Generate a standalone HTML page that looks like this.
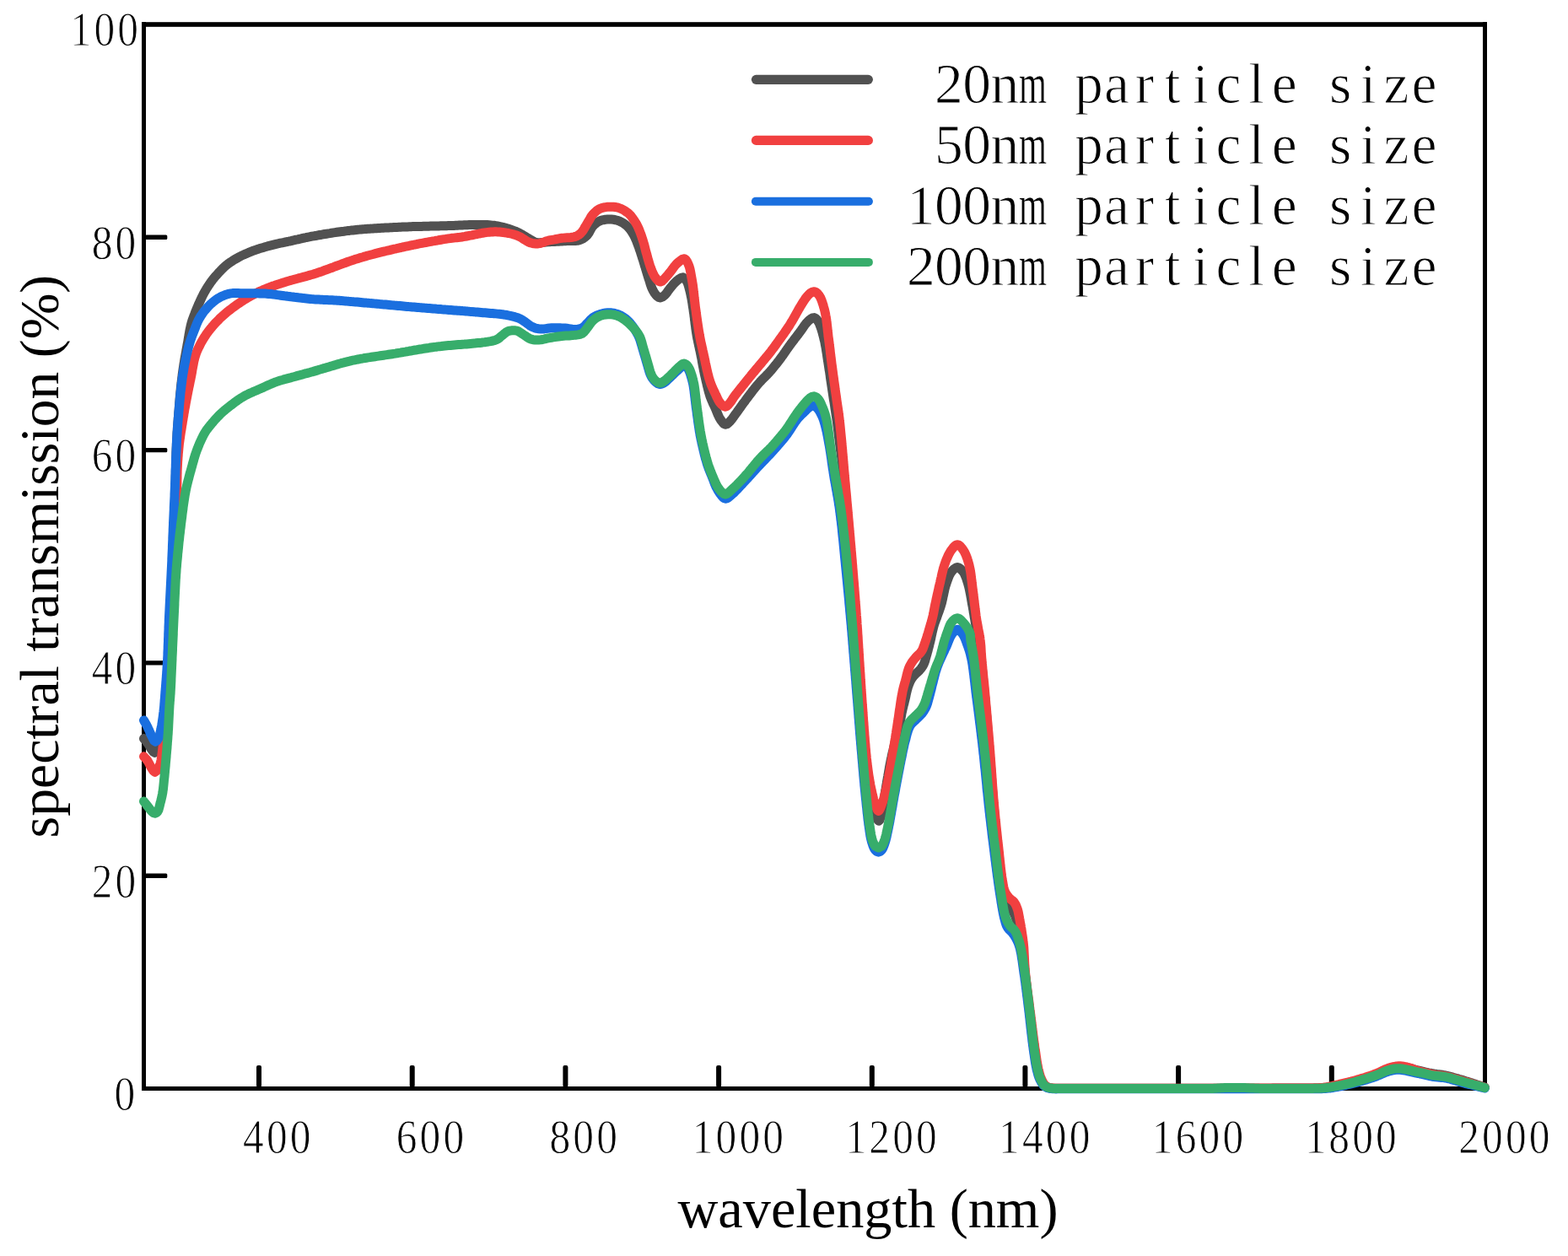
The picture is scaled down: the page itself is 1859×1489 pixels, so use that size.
<!DOCTYPE html>
<html lang="en"><head><meta charset="utf-8"><title>spectral transmission vs wavelength</title>
<style>
html,body{margin:0;padding:0;background:#fff;}
body{width:1859px;height:1489px;overflow:hidden;}
svg{display:block;}
.tick{font-family:"Liberation Serif",serif;font-size:56.1px;letter-spacing:3.65px;fill:#000;stroke:#fff;stroke-width:0.9px;paint-order:fill stroke;}
.axl{font-family:"Liberation Serif",serif;font-size:66px;fill:#000;}
.leg{font-family:"Liberation Serif",serif;font-size:67.5px;fill:#000;stroke:#fff;stroke-width:1px;paint-order:fill stroke;}
.c{fill:none;stroke-width:11;stroke-linejoin:round;stroke-linecap:round;}
</style></head><body>
<svg width="1859" height="1489" viewBox="0 0 1859 1489">
<rect x="0" y="0" width="1859" height="1489" fill="#fff"/>

<g fill="#000">
<rect x="168" y="26.2" width="1595" height="5.6"/>
<rect x="168" y="1288" width="1595" height="5"/>
<rect x="168" y="26" width="5" height="1267"/>
<rect x="1758" y="26" width="5" height="1267"/>
<rect x="304.0" y="1263" width="6" height="26" rx="2"/>
<rect x="485.7" y="1263" width="6" height="26" rx="2"/>
<rect x="667.4" y="1263" width="6" height="26" rx="2"/>
<rect x="849.1" y="1263" width="6" height="26" rx="2"/>
<rect x="1030.8" y="1263" width="6" height="26" rx="2"/>
<rect x="1212.4" y="1263" width="6" height="26" rx="2"/>
<rect x="1394.1" y="1263" width="6" height="26" rx="2"/>
<rect x="1575.8" y="1263" width="6" height="26" rx="2"/>
<rect x="172" y="1035.5" width="26.3" height="5.4" rx="1.5"/>
<rect x="172" y="783.2" width="26.3" height="5.4" rx="1.5"/>
<rect x="172" y="530.9" width="26.3" height="5.4" rx="1.5"/>
<rect x="172" y="278.6" width="26.3" height="5.4" rx="1.5"/>
</g>
<text class="tick" transform="translate(167.20,53.60) scale(0.880,1)" text-anchor="end">100</text>
<text class="tick" transform="translate(164.50,306.60) scale(0.880,1)" text-anchor="end">80</text>
<text class="tick" transform="translate(164.50,558.90) scale(0.880,1)" text-anchor="end">60</text>
<text class="tick" transform="translate(164.50,811.20) scale(0.880,1)" text-anchor="end">40</text>
<text class="tick" transform="translate(164.50,1063.50) scale(0.880,1)" text-anchor="end">20</text>
<text class="tick" transform="translate(163.30,1315.70) scale(0.880,1)" text-anchor="end">0</text>
<text class="tick" transform="translate(371.70,1366.70) scale(0.880,1)" text-anchor="end">400</text>
<text class="tick" transform="translate(553.39,1366.70) scale(0.880,1)" text-anchor="end">600</text>
<text class="tick" transform="translate(735.07,1366.70) scale(0.880,1)" text-anchor="end">800</text>
<text class="tick" transform="translate(932.26,1366.70) scale(0.880,1)" text-anchor="end">1000</text>
<text class="tick" transform="translate(1113.95,1366.70) scale(0.880,1)" text-anchor="end">1200</text>
<text class="tick" transform="translate(1295.64,1366.70) scale(0.880,1)" text-anchor="end">1400</text>
<text class="tick" transform="translate(1477.33,1366.70) scale(0.880,1)" text-anchor="end">1600</text>
<text class="tick" transform="translate(1659.01,1366.70) scale(0.880,1)" text-anchor="end">1800</text>
<text class="tick" transform="translate(1840.70,1366.70) scale(0.880,1)" text-anchor="end">2000</text>
<text class="axl" style="font-size:66.3px" x="1029" y="1455" text-anchor="middle">wavelength (nm)</text>
<text class="axl" style="font-size:65.7px" transform="translate(68.8,659.6) rotate(-90)" text-anchor="middle">spectral transmission (%)</text>
<path class="c" stroke="#515151" d="M170.5,875.6 L171.3,876.5 L173.2,878.7 L175.0,881.0 L176.3,883.0 L177.5,885.1 L178.8,887.2 L180.0,889.0 L181.8,891.2 L183.6,892.3 L185.6,890.9 L187.5,888.0 L188.2,886.4 L188.8,884.6 L189.4,882.6 L189.9,880.4 L190.3,878.2 L190.8,876.0 L191.2,874.2 L191.6,872.3 L191.9,870.4 L192.2,868.5 L192.6,866.5 L192.9,864.4 L193.2,862.3 L193.5,860.2 L193.8,858.0 L194.0,856.2 L194.2,854.4 L194.5,852.5 L194.7,850.6 L194.9,848.7 L195.0,846.7 L195.2,844.7 L195.4,842.7 L195.6,840.6 L195.8,838.5 L196.0,836.4 L196.1,834.3 L196.3,832.2 L196.5,830.0 L196.7,828.2 L196.8,826.3 L197.0,824.5 L197.1,822.6 L197.3,820.7 L197.4,818.8 L197.6,816.9 L197.8,814.9 L197.9,812.9 L198.1,811.0 L198.2,809.0 L198.4,806.9 L198.5,804.9 L198.7,802.8 L198.8,800.7 L198.9,798.6 L199.1,796.5 L199.2,794.4 L199.4,792.2 L199.5,790.0 L199.6,788.2 L199.7,786.4 L199.8,784.5 L199.9,782.6 L200.0,780.7 L200.1,778.8 L200.2,776.8 L200.3,774.8 L200.4,772.8 L200.5,770.8 L200.6,768.8 L200.6,766.8 L200.7,764.8 L200.8,762.7 L200.9,760.7 L201.0,758.6 L201.1,756.5 L201.2,754.5 L201.2,752.4 L201.3,750.3 L201.4,748.3 L201.5,746.2 L201.6,744.2 L201.7,742.1 L201.8,740.1 L201.8,738.0 L201.9,736.0 L202.0,734.0 L202.1,732.0 L202.2,730.0 L202.3,727.9 L202.4,725.9 L202.5,723.8 L202.6,721.8 L202.7,719.7 L202.8,717.6 L202.9,715.6 L203.0,713.5 L203.1,711.5 L203.2,709.5 L203.3,707.4 L203.4,705.4 L203.5,703.3 L203.6,701.3 L203.7,699.3 L203.8,697.2 L203.9,695.2 L204.1,693.1 L204.2,691.1 L204.3,689.1 L204.4,687.0 L204.4,685.0 L204.5,683.0 L204.6,680.9 L204.7,678.9 L204.8,676.9 L204.9,674.8 L205.0,672.8 L205.1,670.8 L205.2,668.7 L205.3,666.7 L205.3,664.6 L205.4,662.5 L205.5,660.5 L205.6,658.4 L205.7,656.3 L205.7,654.2 L205.8,652.1 L205.9,650.0 L206.0,648.0 L206.0,645.9 L206.1,643.8 L206.2,641.7 L206.2,639.7 L206.3,637.6 L206.4,635.6 L206.4,633.6 L206.5,631.6 L206.6,629.6 L206.6,627.7 L206.7,625.7 L206.8,623.8 L206.8,621.9 L206.9,620.0 L206.9,618.2 L207.0,616.4 L207.1,614.2 L207.1,612.0 L207.2,609.9 L207.3,607.8 L207.3,605.7 L207.4,603.7 L207.4,601.7 L207.5,599.7 L207.5,597.8 L207.6,595.8 L207.7,593.9 L207.7,591.9 L207.8,590.0 L207.8,588.0 L207.9,586.0 L207.9,584.1 L208.0,582.0 L208.0,580.0 L208.0,578.0 L208.1,575.9 L208.1,573.9 L208.2,571.8 L208.2,569.7 L208.2,567.6 L208.3,565.5 L208.3,563.4 L208.4,561.3 L208.4,559.2 L208.4,557.1 L208.5,555.0 L208.5,553.0 L208.5,550.9 L208.6,548.9 L208.6,546.9 L208.7,545.0 L208.7,543.1 L208.8,541.2 L208.9,539.0 L208.9,536.8 L209.0,534.7 L209.1,532.6 L209.2,530.5 L209.3,528.5 L209.4,526.4 L209.5,524.4 L209.6,522.4 L209.7,520.4 L209.8,518.4 L209.9,516.4 L210.0,514.3 L210.1,512.2 L210.3,510.2 L210.4,508.1 L210.5,506.0 L210.7,504.0 L210.9,501.9 L211.0,499.9 L211.2,497.8 L211.3,495.7 L211.5,493.7 L211.7,491.6 L211.8,489.6 L212.0,487.5 L212.2,485.4 L212.3,483.4 L212.5,481.3 L212.7,479.2 L212.8,477.2 L213.0,475.1 L213.1,473.0 L213.3,470.9 L213.5,468.9 L213.7,466.8 L213.9,464.7 L214.1,462.7 L214.3,460.6 L214.5,458.5 L214.7,456.5 L215.0,454.4 L215.2,452.3 L215.5,450.2 L215.7,448.2 L216.0,446.1 L216.2,444.0 L216.5,442.0 L216.8,439.9 L217.1,437.8 L217.4,435.8 L217.7,433.7 L218.0,431.6 L218.4,429.5 L218.7,427.4 L219.1,425.3 L219.4,423.3 L219.8,421.2 L220.2,419.1 L220.6,417.0 L220.9,414.9 L221.3,412.9 L221.7,410.9 L222.0,408.9 L222.4,406.9 L222.8,404.8 L223.1,402.7 L223.5,400.7 L223.8,398.6 L224.1,396.6 L224.5,394.6 L224.8,392.6 L225.2,390.7 L225.6,388.8 L226.0,387.0 L226.4,385.2 L227.0,383.0 L227.6,380.9 L228.3,378.9 L229.0,377.0 L229.7,375.0 L230.5,373.1 L231.2,371.2 L232.0,369.0 L232.9,366.8 L233.8,364.7 L234.7,362.6 L235.6,360.4 L236.6,358.3 L237.5,356.4 L238.3,354.6 L239.2,352.7 L240.1,350.9 L241.0,349.0 L242.0,347.2 L243.0,345.4 L244.0,343.7 L245.0,341.9 L246.1,340.2 L247.2,338.6 L248.3,336.9 L249.4,335.2 L250.6,333.6 L251.9,331.9 L253.2,330.3 L254.6,328.6 L255.9,327.0 L257.4,325.4 L258.8,323.8 L260.2,322.3 L261.8,320.7 L263.3,319.1 L264.9,317.5 L266.5,316.0 L268.2,314.6 L269.9,313.2 L271.5,312.0 L273.1,310.9 L274.8,309.8 L276.5,308.7 L278.2,307.6 L280.0,306.6 L281.8,305.6 L283.5,304.7 L285.3,303.7 L287.1,302.8 L289.0,302.0 L290.8,301.1 L292.8,300.3 L294.8,299.4 L296.8,298.6 L298.6,297.9 L300.4,297.2 L302.3,296.6 L304.2,295.9 L306.2,295.2 L308.2,294.6 L310.2,294.0 L312.2,293.4 L314.2,292.8 L316.3,292.2 L318.3,291.6 L320.3,291.1 L322.3,290.6 L324.3,290.1 L326.3,289.6 L328.4,289.1 L330.4,288.7 L332.5,288.2 L334.6,287.8 L336.7,287.4 L338.8,286.9 L341.0,286.5 L343.1,286.0 L345.1,285.6 L347.1,285.1 L349.0,284.7 L351.0,284.2 L353.0,283.8 L355.0,283.3 L357.0,282.9 L359.1,282.4 L361.1,282.0 L363.2,281.5 L365.4,281.1 L367.6,280.7 L369.8,280.2 L372.1,279.8 L373.9,279.5 L375.7,279.2 L377.6,278.8 L379.4,278.5 L381.3,278.2 L383.3,277.8 L385.2,277.5 L387.2,277.2 L389.2,276.9 L391.2,276.6 L393.2,276.2 L395.3,275.9 L397.3,275.6 L399.4,275.3 L401.5,275.0 L403.6,274.7 L405.7,274.4 L407.8,274.2 L409.9,273.9 L412.0,273.6 L414.2,273.4 L416.3,273.1 L418.4,272.9 L420.3,272.7 L422.3,272.5 L424.2,272.3 L426.2,272.1 L428.1,272.0 L430.1,271.8 L432.1,271.6 L434.1,271.5 L436.1,271.3 L438.1,271.2 L440.2,271.1 L442.2,270.9 L444.2,270.8 L446.3,270.7 L448.3,270.5 L450.4,270.4 L452.4,270.3 L454.5,270.2 L456.5,270.1 L458.6,270.0 L460.6,269.9 L462.7,269.8 L464.7,269.7 L466.8,269.6 L468.8,269.5 L470.8,269.4 L472.9,269.3 L474.9,269.2 L476.9,269.1 L479.0,269.0 L481.0,268.9 L483.1,268.9 L485.2,268.8 L487.3,268.7 L489.4,268.6 L491.5,268.6 L493.6,268.5 L495.7,268.5 L497.8,268.4 L499.9,268.4 L502.0,268.3 L504.1,268.3 L506.2,268.2 L508.3,268.2 L510.3,268.1 L512.4,268.1 L514.4,268.0 L516.4,268.0 L518.4,267.9 L520.3,267.9 L522.3,267.8 L524.2,267.8 L526.0,267.8 L527.9,267.7 L529.6,267.7 L531.4,267.6 L533.7,267.5 L535.9,267.4 L538.1,267.4 L540.2,267.3 L542.3,267.2 L544.3,267.1 L546.4,267.0 L548.3,266.9 L550.3,266.8 L552.3,266.7 L554.2,266.7 L556.1,266.6 L558.0,266.5 L559.9,266.5 L561.7,266.5 L563.6,266.5 L565.7,266.5 L567.8,266.5 L569.9,266.5 L571.9,266.5 L574.0,266.5 L575.9,266.6 L577.9,266.6 L579.9,266.7 L581.9,266.9 L583.8,267.1 L585.8,267.3 L587.8,267.6 L589.9,268.0 L591.9,268.4 L594.0,268.8 L596.1,269.3 L598.2,269.9 L600.3,270.4 L602.3,271.0 L604.4,271.7 L606.4,272.4 L608.3,273.1 L610.2,273.8 L612.0,274.5 L614.0,275.4 L616.0,276.4 L617.9,277.5 L619.8,278.6 L621.6,279.7 L623.4,280.8 L625.0,281.8 L626.7,282.7 L628.2,283.6 L630.3,284.8 L632.2,286.0 L634.1,286.9 L636.3,287.6 L638.3,287.8 L640.4,287.8 L642.7,287.6 L645.0,287.3 L647.4,287.0 L650.0,286.8 L651.8,286.7 L653.7,286.6 L655.7,286.5 L657.8,286.4 L660.0,286.3 L662.1,286.2 L664.3,286.0 L666.4,285.9 L668.5,285.8 L670.5,285.7 L672.4,285.6 L674.2,285.5 L676.6,285.4 L678.9,285.4 L681.1,285.5 L683.2,285.4 L685.2,285.2 L687.1,284.7 L689.1,283.9 L691.0,283.0 L692.7,281.8 L694.4,280.5 L696.0,279.0 L697.3,277.4 L698.5,275.5 L699.5,273.5 L700.6,271.5 L701.7,269.6 L703.0,268.0 L704.4,266.5 L706.0,265.2 L707.5,264.0 L709.2,262.9 L711.0,262.0 L713.1,261.2 L715.4,260.7 L717.8,260.3 L720.2,260.1 L722.6,260.0 L724.9,260.1 L727.2,260.3 L729.6,260.7 L731.8,261.3 L734.0,262.0 L736.1,263.0 L738.3,264.1 L740.3,265.5 L742.2,266.9 L744.0,268.5 L745.6,270.2 L747.1,272.0 L748.5,273.9 L749.8,275.9 L751.0,278.0 L752.0,279.8 L752.9,281.7 L753.7,283.6 L754.6,285.6 L755.4,287.7 L756.2,289.8 L757.0,292.0 L757.7,293.8 L758.3,295.8 L759.0,297.7 L759.7,299.8 L760.3,301.8 L761.0,303.9 L761.6,306.0 L762.3,308.0 L762.9,310.0 L763.5,312.0 L764.1,314.1 L764.8,316.1 L765.4,318.2 L766.0,320.2 L766.6,322.2 L767.2,324.2 L767.8,326.2 L768.4,328.1 L769.0,330.0 L769.7,332.1 L770.4,334.3 L771.0,336.4 L771.7,338.5 L772.4,340.5 L773.2,342.3 L774.0,344.0 L775.2,346.1 L776.4,348.0 L777.7,349.7 L779.0,351.0 L781.0,352.4 L783.0,353.0 L785.5,352.0 L788.0,350.0 L789.4,348.5 L790.8,346.8 L792.1,344.8 L793.5,342.9 L795.0,341.0 L796.5,339.2 L798.1,337.3 L799.7,335.6 L801.4,333.9 L803.0,332.5 L805.3,330.7 L807.7,329.3 L809.8,328.8 L812.1,330.3 L814.0,333.0 L814.8,334.6 L815.6,336.4 L816.2,338.4 L816.8,340.5 L817.4,342.7 L818.0,345.0 L818.4,346.8 L818.8,348.6 L819.2,350.5 L819.6,352.5 L820.0,354.5 L820.3,356.5 L820.7,358.6 L821.0,360.8 L821.3,363.0 L821.7,365.2 L822.0,367.0 L822.2,368.9 L822.5,370.8 L822.8,372.8 L823.0,374.8 L823.3,376.8 L823.5,378.9 L823.8,381.0 L824.0,383.1 L824.3,385.1 L824.6,387.2 L824.8,389.3 L825.1,391.3 L825.4,393.2 L825.7,395.1 L826.0,397.0 L826.4,399.2 L826.8,401.5 L827.3,403.6 L827.7,405.8 L828.2,407.9 L828.6,410.0 L829.1,412.1 L829.5,414.1 L830.0,416.1 L830.4,418.1 L830.8,420.0 L831.2,422.3 L831.7,424.4 L832.1,426.6 L832.4,428.7 L832.8,430.8 L833.2,432.9 L833.6,434.9 L834.0,437.0 L834.4,439.2 L834.9,441.4 L835.3,443.6 L835.8,445.7 L836.3,447.9 L836.8,450.1 L837.3,452.3 L837.8,454.2 L838.2,456.2 L838.7,458.2 L839.2,460.2 L839.7,462.2 L840.2,464.2 L840.8,466.2 L841.4,468.1 L842.0,470.0 L842.8,472.2 L843.7,474.3 L844.6,476.4 L845.5,478.5 L846.5,480.5 L847.4,482.5 L848.3,484.5 L849.2,486.7 L850.1,488.9 L851.0,491.1 L852.0,493.3 L852.9,495.2 L854.0,497.0 L855.4,499.0 L856.9,501.0 L858.4,502.5 L860.0,503.2 L861.9,502.7 L863.7,501.2 L865.5,499.5 L867.1,497.7 L868.6,495.7 L870.2,493.5 L871.3,491.9 L872.5,490.3 L873.7,488.7 L874.9,486.9 L876.3,485.0 L877.3,483.6 L878.5,482.0 L879.6,480.4 L880.8,478.7 L882.1,477.0 L883.4,475.3 L884.6,473.5 L885.9,471.8 L887.2,470.1 L888.4,468.5 L889.7,466.8 L891.0,465.2 L892.2,463.5 L893.5,461.9 L894.8,460.3 L896.0,458.7 L897.3,457.1 L898.7,455.5 L900.0,454.0 L901.3,452.5 L902.7,451.1 L904.1,449.6 L905.5,448.2 L906.9,446.8 L908.3,445.4 L909.7,444.0 L911.1,442.5 L912.5,441.0 L913.9,439.4 L915.3,437.7 L916.7,436.0 L918.1,434.3 L919.5,432.6 L920.9,430.8 L922.3,429.0 L923.7,427.3 L925.0,425.5 L926.2,423.9 L927.4,422.2 L928.6,420.6 L929.7,418.9 L930.9,417.3 L932.0,415.6 L933.2,413.9 L934.3,412.3 L935.5,410.6 L936.7,409.0 L937.9,407.4 L939.1,405.7 L940.4,404.1 L941.7,402.4 L942.9,400.7 L944.2,399.1 L945.4,397.5 L946.6,396.0 L947.7,394.5 L948.8,393.0 L950.1,391.2 L951.4,389.3 L952.6,387.6 L953.7,385.9 L954.9,384.4 L956.0,383.0 L957.7,381.2 L959.3,379.6 L961.0,378.3 L963.2,377.0 L965.4,376.6 L967.0,377.4 L968.5,378.9 L970.0,381.0 L970.8,382.3 L971.5,383.9 L972.2,385.6 L972.9,387.5 L973.6,389.6 L974.3,391.7 L974.9,393.9 L975.5,396.2 L976.1,398.4 L976.7,400.7 L977.1,402.5 L977.6,404.3 L978.0,406.2 L978.3,408.2 L978.7,410.2 L979.1,412.2 L979.4,414.2 L979.7,416.3 L980.1,418.4 L980.4,420.5 L980.7,422.6 L981.0,424.7 L981.3,426.8 L981.7,428.9 L982.0,431.0 L982.3,433.0 L982.6,435.0 L982.9,437.0 L983.2,439.0 L983.6,441.0 L983.9,443.1 L984.2,445.1 L984.4,447.1 L984.7,449.1 L985.0,451.1 L985.3,453.1 L985.6,455.1 L985.9,457.1 L986.2,459.2 L986.5,461.2 L986.8,463.2 L987.1,465.2 L987.4,467.2 L987.7,469.2 L988.0,471.3 L988.3,473.3 L988.7,475.3 L989.0,477.3 L989.3,479.3 L989.6,481.3 L989.9,483.4 L990.2,485.4 L990.5,487.4 L990.8,489.4 L991.1,491.4 L991.4,493.5 L991.7,495.5 L992.0,497.5 L992.3,499.5 L992.6,501.6 L992.8,503.7 L993.1,505.9 L993.4,508.0 L993.6,510.1 L993.9,512.3 L994.1,514.4 L994.4,516.5 L994.6,518.6 L994.9,520.6 L995.1,522.6 L995.3,524.5 L995.6,526.3 L995.8,528.1 L996.0,529.8 L996.3,532.2 L996.6,534.3 L996.9,536.2 L997.1,538.1 L997.4,540.1 L997.7,542.4 L998.0,545.0 L998.1,546.4 L998.3,547.9 L998.5,549.5 L998.6,551.2 L998.8,552.9 L998.9,554.7 L999.1,556.6 L999.3,558.5 L999.4,560.5 L999.6,562.5 L999.8,564.6 L999.9,566.7 L1000.1,568.9 L1000.3,571.0 L1000.5,573.3 L1000.6,575.5 L1000.8,577.7 L1001.0,580.0 L1001.2,582.3 L1001.3,584.6 L1001.5,586.8 L1001.7,589.1 L1001.9,591.4 L1002.1,593.6 L1002.3,595.8 L1002.4,598.1 L1002.6,600.2 L1002.8,602.4 L1003.0,604.5 L1003.2,606.5 L1003.4,608.5 L1003.5,610.5 L1003.7,612.4 L1003.9,614.4 L1004.1,616.4 L1004.3,618.5 L1004.5,620.5 L1004.7,622.5 L1004.8,624.5 L1005.0,626.5 L1005.2,628.5 L1005.4,630.6 L1005.6,632.6 L1005.8,634.6 L1006.0,636.6 L1006.2,638.7 L1006.4,640.7 L1006.6,642.7 L1006.8,644.8 L1007.0,646.8 L1007.2,648.8 L1007.4,650.9 L1007.6,652.9 L1007.7,654.9 L1007.9,657.0 L1008.1,659.0 L1008.3,661.0 L1008.5,663.0 L1008.7,665.1 L1008.8,667.1 L1009.0,669.1 L1009.2,671.1 L1009.3,673.2 L1009.5,675.2 L1009.7,677.2 L1009.9,679.3 L1010.0,681.3 L1010.2,683.4 L1010.4,685.5 L1010.5,687.5 L1010.7,689.6 L1010.9,691.7 L1011.0,693.8 L1011.2,695.8 L1011.3,697.9 L1011.5,700.0 L1011.7,702.0 L1011.8,704.1 L1012.0,706.1 L1012.1,708.2 L1012.3,710.2 L1012.4,712.2 L1012.6,714.2 L1012.7,716.2 L1012.9,718.2 L1013.0,720.2 L1013.2,722.2 L1013.3,724.1 L1013.5,726.0 L1013.6,728.0 L1013.7,729.9 L1013.9,731.7 L1014.0,733.6 L1014.2,735.8 L1014.3,737.9 L1014.4,740.0 L1014.6,742.0 L1014.7,744.1 L1014.8,746.1 L1015.0,748.1 L1015.1,750.1 L1015.2,752.0 L1015.3,754.0 L1015.5,755.9 L1015.6,757.9 L1015.7,759.8 L1015.8,761.8 L1015.9,763.7 L1016.1,765.7 L1016.2,767.7 L1016.3,769.6 L1016.4,771.7 L1016.6,773.7 L1016.7,775.8 L1016.9,777.9 L1017.0,780.0 L1017.1,781.9 L1017.3,783.8 L1017.4,785.7 L1017.5,787.7 L1017.7,789.6 L1017.8,791.6 L1017.9,793.6 L1018.1,795.5 L1018.2,797.5 L1018.3,799.6 L1018.5,801.6 L1018.6,803.6 L1018.8,805.6 L1018.9,807.7 L1019.0,809.7 L1019.2,811.8 L1019.3,813.8 L1019.5,815.9 L1019.6,817.9 L1019.8,820.0 L1019.9,822.1 L1020.1,824.1 L1020.2,826.2 L1020.4,828.2 L1020.5,830.3 L1020.7,832.3 L1020.8,834.3 L1021.0,836.4 L1021.1,838.4 L1021.3,840.4 L1021.5,842.5 L1021.6,844.6 L1021.8,846.7 L1021.9,848.9 L1022.1,851.0 L1022.3,853.2 L1022.4,855.4 L1022.6,857.6 L1022.8,859.8 L1022.9,862.0 L1023.1,864.2 L1023.3,866.4 L1023.4,868.6 L1023.6,870.8 L1023.8,873.0 L1024.0,875.1 L1024.1,877.2 L1024.3,879.4 L1024.5,881.4 L1024.7,883.5 L1024.8,885.5 L1025.0,887.5 L1025.2,889.4 L1025.4,891.3 L1025.6,893.1 L1025.7,894.9 L1025.9,896.7 L1026.1,898.4 L1026.3,900.0 L1026.6,902.4 L1026.9,904.7 L1027.2,906.9 L1027.5,908.9 L1027.8,910.9 L1028.1,912.9 L1028.4,914.8 L1028.7,916.7 L1029.1,918.5 L1029.4,920.4 L1029.7,922.3 L1030.0,924.2 L1030.3,926.3 L1030.7,928.5 L1031.0,930.6 L1031.4,932.7 L1031.7,934.8 L1032.0,936.8 L1032.4,938.9 L1032.8,940.9 L1033.1,943.0 L1033.5,945.0 L1033.9,947.2 L1034.3,949.4 L1034.7,951.7 L1035.1,953.9 L1035.5,956.1 L1036.0,958.3 L1036.4,960.3 L1036.9,962.2 L1037.5,964.0 L1038.3,966.4 L1039.2,968.8 L1040.1,971.0 L1041.0,972.5 L1041.9,973.1 L1042.9,972.2 L1043.8,969.9 L1044.7,967.0 L1045.5,964.0 L1045.9,962.2 L1046.3,960.3 L1046.7,958.2 L1047.0,956.1 L1047.3,953.9 L1047.6,951.7 L1047.9,949.4 L1048.2,947.2 L1048.5,945.0 L1048.8,943.0 L1049.2,940.9 L1049.5,938.9 L1049.8,936.8 L1050.2,934.8 L1050.5,932.7 L1050.9,930.6 L1051.3,928.5 L1051.6,926.3 L1052.0,924.2 L1052.3,922.2 L1052.7,920.3 L1053.0,918.3 L1053.4,916.3 L1053.7,914.3 L1054.1,912.2 L1054.4,910.2 L1054.8,908.2 L1055.2,906.1 L1055.6,904.1 L1056.0,902.0 L1056.4,900.0 L1056.9,897.9 L1057.3,895.8 L1057.8,893.6 L1058.3,891.4 L1058.9,889.3 L1059.4,887.1 L1059.9,884.9 L1060.5,882.8 L1061.0,880.8 L1061.5,878.8 L1062.0,876.8 L1062.5,875.0 L1063.1,872.7 L1063.7,870.6 L1064.3,868.6 L1064.9,866.6 L1065.5,864.7 L1066.0,862.7 L1066.5,860.6 L1066.9,858.6 L1067.3,856.6 L1067.6,854.6 L1067.9,852.6 L1068.2,850.5 L1068.6,848.5 L1068.9,846.5 L1069.3,844.5 L1069.8,842.4 L1070.2,840.3 L1070.7,838.3 L1071.2,836.2 L1071.8,834.2 L1072.3,832.1 L1072.8,830.0 L1073.3,827.9 L1073.8,825.8 L1074.2,823.6 L1074.7,821.4 L1075.2,819.2 L1075.8,817.1 L1076.3,815.1 L1076.9,813.3 L1077.8,810.8 L1078.8,808.5 L1079.8,806.4 L1080.9,804.5 L1082.3,802.5 L1083.9,800.7 L1085.5,799.0 L1087.1,797.5 L1088.7,796.1 L1090.3,794.5 L1091.6,793.0 L1092.8,791.4 L1094.0,789.7 L1095.0,787.8 L1095.8,785.9 L1096.6,783.8 L1097.2,781.6 L1097.8,779.3 L1098.5,777.0 L1099.1,775.0 L1099.6,773.0 L1100.2,770.9 L1100.7,768.8 L1101.3,766.7 L1101.8,764.5 L1102.4,762.2 L1102.9,760.3 L1103.3,758.3 L1103.8,756.3 L1104.2,754.2 L1104.7,752.1 L1105.1,750.0 L1105.6,747.9 L1106.1,745.9 L1106.6,743.9 L1107.1,742.1 L1107.7,740.0 L1108.4,738.0 L1109.1,736.1 L1109.8,734.2 L1110.5,732.4 L1111.1,730.6 L1111.8,728.7 L1112.5,726.7 L1113.2,724.8 L1113.9,722.9 L1114.5,721.0 L1115.2,718.9 L1115.9,716.7 L1116.4,715.0 L1116.8,713.2 L1117.2,711.3 L1117.7,709.3 L1118.1,707.2 L1118.6,705.2 L1119.0,703.1 L1119.5,701.0 L1119.9,699.0 L1120.4,697.0 L1120.9,695.1 L1121.5,693.3 L1122.2,691.1 L1122.9,689.0 L1123.7,686.9 L1124.4,684.8 L1125.2,682.9 L1126.1,681.1 L1127.0,679.4 L1128.0,678.0 L1129.6,676.0 L1131.4,674.3 L1133.3,673.1 L1135.1,672.6 L1136.9,673.1 L1138.7,674.3 L1140.4,676.1 L1142.0,678.0 L1143.0,679.4 L1143.8,681.1 L1144.6,682.9 L1145.4,684.8 L1146.1,686.9 L1146.7,689.0 L1147.4,691.1 L1148.0,693.3 L1148.5,695.1 L1149.0,697.0 L1149.4,698.9 L1149.8,700.9 L1150.2,703.0 L1150.6,705.0 L1151.0,707.1 L1151.4,709.2 L1151.7,711.3 L1152.1,713.4 L1152.4,715.5 L1152.8,717.5 L1153.2,719.5 L1153.5,721.5 L1153.9,723.5 L1154.2,725.6 L1154.6,727.6 L1154.9,729.6 L1155.2,731.6 L1155.6,733.6 L1155.9,735.6 L1156.2,737.7 L1156.6,739.7 L1156.9,741.7 L1157.2,743.7 L1157.6,745.8 L1157.9,747.9 L1158.3,750.0 L1158.6,752.1 L1159.0,754.2 L1159.3,756.3 L1159.7,758.3 L1160.0,760.3 L1160.3,762.2 L1160.6,764.1 L1160.9,765.9 L1161.2,768.0 L1161.6,770.0 L1161.8,771.8 L1162.1,773.6 L1162.4,775.5 L1162.7,777.6 L1163.0,780.0 L1163.2,781.5 L1163.4,783.1 L1163.6,784.7 L1163.8,786.5 L1164.0,788.3 L1164.2,790.1 L1164.4,792.0 L1164.6,794.0 L1164.8,796.0 L1165.0,798.1 L1165.2,800.2 L1165.4,802.3 L1165.6,804.5 L1165.8,806.7 L1166.0,808.9 L1166.2,811.1 L1166.5,813.3 L1166.7,815.6 L1166.9,817.8 L1167.1,820.0 L1167.3,822.3 L1167.5,824.5 L1167.7,826.3 L1167.8,828.2 L1168.0,830.1 L1168.2,832.0 L1168.4,833.9 L1168.5,835.9 L1168.7,837.8 L1168.9,839.8 L1169.1,841.8 L1169.2,843.8 L1169.4,845.8 L1169.6,847.8 L1169.8,849.9 L1169.9,851.9 L1170.1,854.0 L1170.3,856.0 L1170.4,858.1 L1170.6,860.2 L1170.8,862.3 L1171.0,864.3 L1171.1,866.4 L1171.3,868.5 L1171.5,870.6 L1171.7,872.7 L1171.8,874.7 L1172.0,876.8 L1172.2,878.9 L1172.3,880.9 L1172.5,883.0 L1172.7,885.0 L1172.8,887.1 L1173.0,889.1 L1173.2,891.1 L1173.3,893.1 L1173.5,895.2 L1173.6,897.2 L1173.8,899.2 L1174.0,901.3 L1174.1,903.3 L1174.3,905.4 L1174.4,907.4 L1174.6,909.4 L1174.7,911.5 L1174.9,913.5 L1175.0,915.6 L1175.2,917.6 L1175.3,919.6 L1175.5,921.7 L1175.6,923.7 L1175.8,925.7 L1175.9,927.8 L1176.1,929.8 L1176.2,931.8 L1176.4,933.8 L1176.6,935.8 L1176.7,937.8 L1176.9,939.8 L1177.0,941.8 L1177.2,943.8 L1177.3,945.8 L1177.5,947.8 L1177.7,949.7 L1177.8,951.7 L1178.0,953.6 L1178.2,955.7 L1178.4,957.8 L1178.6,960.0 L1178.8,962.1 L1178.9,964.2 L1179.1,966.3 L1179.3,968.4 L1179.5,970.5 L1179.7,972.6 L1179.9,974.7 L1180.1,976.8 L1180.3,978.9 L1180.5,981.0 L1180.7,983.1 L1180.9,985.1 L1181.1,987.2 L1181.3,989.2 L1181.5,991.2 L1181.7,993.2 L1181.9,995.2 L1182.1,997.1 L1182.3,999.1 L1182.5,1001.0 L1182.7,1002.9 L1182.9,1004.7 L1183.1,1006.6 L1183.3,1008.4 L1183.5,1010.7 L1183.8,1013.0 L1184.0,1015.3 L1184.3,1017.6 L1184.5,1019.8 L1184.8,1022.1 L1185.0,1024.3 L1185.2,1026.5 L1185.5,1028.6 L1185.7,1030.7 L1186.0,1032.7 L1186.2,1034.7 L1186.5,1036.6 L1186.7,1038.5 L1187.0,1040.3 L1187.2,1042.0 L1187.5,1043.7 L1187.9,1046.1 L1188.3,1048.3 L1188.7,1050.4 L1189.1,1052.3 L1189.5,1054.2 L1190.0,1056.1 L1190.5,1058.0 L1191.1,1060.1 L1191.7,1062.2 L1192.3,1064.3 L1193.0,1066.3 L1193.7,1068.2 L1194.5,1070.0 L1195.7,1072.1 L1196.9,1074.1 L1198.3,1076.0 L1199.5,1078.0 L1200.5,1079.7 L1201.4,1081.5 L1202.4,1083.3 L1203.2,1085.1 L1204.0,1087.0 L1204.6,1088.9 L1205.1,1090.9 L1205.6,1092.9 L1206.0,1094.9 L1206.5,1097.0 L1207.0,1099.1 L1207.5,1101.2 L1208.0,1103.4 L1208.5,1105.7 L1209.0,1107.9 L1209.5,1110.0 L1210.0,1112.2 L1210.5,1114.3 L1211.0,1116.4 L1211.5,1118.8 L1212.0,1121.4 L1212.2,1123.0 L1212.5,1124.6 L1212.7,1126.4 L1212.9,1128.2 L1213.1,1130.1 L1213.3,1132.1 L1213.5,1134.1 L1213.7,1136.2 L1213.8,1138.3 L1214.0,1140.5 L1214.2,1142.7 L1214.4,1144.9 L1214.6,1147.1 L1214.8,1149.3 L1215.1,1151.4 L1215.3,1153.6 L1215.5,1155.5 L1215.7,1157.5 L1216.0,1159.5 L1216.2,1161.5 L1216.4,1163.5 L1216.7,1165.5 L1216.9,1167.6 L1217.1,1169.6 L1217.4,1171.7 L1217.6,1173.8 L1217.9,1175.9 L1218.1,1178.0 L1218.4,1180.1 L1218.6,1182.2 L1218.9,1184.3 L1219.2,1186.4 L1219.4,1188.6 L1219.7,1190.7 L1219.9,1192.9 L1220.2,1195.0 L1220.4,1197.0 L1220.7,1198.9 L1220.9,1201.0 L1221.2,1203.0 L1221.4,1205.1 L1221.7,1207.2 L1221.9,1209.3 L1222.2,1211.4 L1222.4,1213.5 L1222.7,1215.6 L1223.0,1217.7 L1223.2,1219.9 L1223.5,1222.0 L1223.7,1224.1 L1224.0,1226.1 L1224.3,1228.2 L1224.5,1230.2 L1224.8,1232.2 L1225.0,1234.2 L1225.3,1236.1 L1225.5,1238.0 L1225.8,1239.8 L1226.1,1241.6 L1226.3,1243.3 L1226.6,1245.6 L1227.0,1247.8 L1227.3,1250.0 L1227.6,1252.2 L1227.9,1254.3 L1228.2,1256.4 L1228.5,1258.4 L1228.8,1260.4 L1229.1,1262.3 L1229.5,1264.1 L1229.8,1265.8 L1230.2,1267.5 L1230.6,1269.1 L1231.3,1271.7 L1232.0,1274.0 L1232.8,1276.1 L1233.6,1278.1 L1234.5,1280.0 L1235.7,1282.4 L1237.0,1284.7 L1238.5,1286.5 L1240.8,1288.3 L1243.5,1289.5 L1245.6,1289.9 L1247.8,1290.1 L1250.0,1290.2 L1251.9,1290.2 L1253.8,1290.2 L1256.0,1290.2 L1257.6,1290.2 L1259.2,1290.2 L1260.8,1290.2 L1262.7,1290.2 L1264.8,1290.2 L1267.2,1290.2 L1270.0,1290.2 L1271.0,1290.2 L1272.1,1290.2 L1273.2,1290.2 L1274.4,1290.2 L1275.7,1290.2 L1277.0,1290.2 L1278.3,1290.2 L1279.7,1290.2 L1281.2,1290.2 L1282.7,1290.2 L1284.3,1290.2 L1285.9,1290.2 L1287.5,1290.2 L1289.2,1290.2 L1290.9,1290.2 L1292.7,1290.2 L1294.5,1290.2 L1296.3,1290.2 L1298.2,1290.2 L1300.1,1290.2 L1302.1,1290.2 L1304.1,1290.2 L1306.1,1290.2 L1308.1,1290.2 L1310.2,1290.2 L1312.3,1290.2 L1314.4,1290.2 L1316.6,1290.2 L1318.7,1290.2 L1320.9,1290.2 L1323.1,1290.2 L1325.4,1290.2 L1327.6,1290.2 L1329.9,1290.2 L1332.1,1290.2 L1334.4,1290.2 L1336.7,1290.2 L1339.0,1290.2 L1341.3,1290.2 L1343.7,1290.2 L1346.0,1290.2 L1348.3,1290.2 L1350.7,1290.2 L1353.0,1290.2 L1355.3,1290.2 L1357.7,1290.2 L1360.0,1290.2 L1362.3,1290.2 L1364.7,1290.2 L1367.0,1290.2 L1369.3,1290.2 L1371.6,1290.2 L1373.9,1290.2 L1376.2,1290.2 L1378.4,1290.2 L1380.7,1290.2 L1382.9,1290.2 L1385.1,1290.2 L1387.3,1290.2 L1389.5,1290.2 L1391.6,1290.2 L1393.8,1290.2 L1395.9,1290.2 L1397.9,1290.2 L1400.0,1290.2 L1402.0,1290.2 L1404.0,1290.2 L1406.0,1290.2 L1408.1,1290.2 L1410.1,1290.2 L1412.2,1290.2 L1414.4,1290.2 L1416.5,1290.2 L1418.7,1290.2 L1420.8,1290.2 L1423.0,1290.2 L1425.2,1290.2 L1427.5,1290.2 L1429.7,1290.2 L1431.9,1290.2 L1434.2,1290.2 L1436.5,1290.2 L1438.7,1290.2 L1441.0,1290.2 L1443.3,1290.2 L1445.6,1290.2 L1447.9,1290.2 L1450.2,1290.2 L1452.5,1290.2 L1454.8,1290.2 L1457.1,1290.2 L1459.4,1290.2 L1461.7,1290.2 L1464.0,1290.2 L1466.3,1290.2 L1468.5,1290.2 L1470.8,1290.2 L1473.1,1290.2 L1475.3,1290.2 L1477.6,1290.2 L1479.8,1290.2 L1482.0,1290.2 L1484.2,1290.2 L1486.4,1290.2 L1488.6,1290.2 L1490.7,1290.2 L1492.9,1290.2 L1495.0,1290.2 L1497.0,1290.2 L1499.1,1290.2 L1501.2,1290.2 L1503.2,1290.2 L1505.2,1290.2 L1507.1,1290.2 L1509.1,1290.1 L1511.0,1290.1 L1512.8,1290.1 L1514.7,1290.1 L1516.5,1290.1 L1518.3,1290.1 L1520.0,1290.1 L1521.7,1290.1 L1523.4,1290.1 L1525.0,1290.1 L1526.6,1290.1 L1528.1,1290.1 L1529.6,1290.1 L1531.1,1290.1 L1532.5,1290.1 L1533.9,1290.1 L1535.2,1290.1 L1536.5,1290.1 L1537.7,1290.1 L1538.9,1290.1 L1540.0,1290.1 L1542.8,1290.1 L1545.3,1290.1 L1547.6,1290.1 L1549.7,1290.1 L1551.6,1290.1 L1553.4,1290.1 L1555.1,1290.1 L1556.8,1290.1 L1558.4,1290.0 L1560.0,1290.0 L1562.5,1289.9 L1564.7,1289.9 L1566.8,1289.8 L1569.0,1289.6 L1571.1,1289.4 L1573.1,1289.1 L1575.3,1288.8 L1577.5,1288.4 L1580.0,1288.0 L1581.7,1287.7 L1583.4,1287.4 L1585.3,1287.0 L1587.2,1286.6 L1589.2,1286.2 L1591.3,1285.8 L1593.4,1285.3 L1595.5,1284.9 L1597.6,1284.4 L1599.7,1283.9 L1601.8,1283.3 L1603.8,1282.8 L1605.8,1282.3 L1607.8,1281.7 L1609.8,1281.1 L1611.9,1280.5 L1613.9,1279.9 L1616.0,1279.2 L1618.0,1278.5 L1620.1,1277.9 L1622.1,1277.2 L1624.0,1276.5 L1625.9,1275.8 L1627.8,1275.2 L1629.6,1274.5 L1631.7,1273.7 L1633.7,1272.8 L1635.7,1271.8 L1637.7,1270.9 L1639.6,1270.0 L1641.4,1269.1 L1643.3,1268.3 L1645.1,1267.6 L1646.8,1267.0 L1649.2,1266.3 L1651.4,1265.7 L1653.6,1265.3 L1655.8,1265.0 L1658.0,1264.8 L1660.0,1264.8 L1662.0,1264.9 L1664.0,1265.1 L1666.0,1265.3 L1668.0,1265.7 L1670.0,1266.0 L1672.2,1266.5 L1674.4,1267.1 L1676.6,1267.7 L1678.9,1268.4 L1681.3,1269.0 L1683.2,1269.4 L1685.2,1269.9 L1687.3,1270.4 L1689.4,1270.9 L1691.6,1271.3 L1693.8,1271.8 L1695.9,1272.2 L1698.0,1272.6 L1700.0,1273.0 L1702.1,1273.3 L1704.0,1273.6 L1705.9,1273.8 L1707.8,1274.0 L1709.8,1274.3 L1711.8,1274.6 L1713.9,1275.0 L1715.7,1275.4 L1717.6,1275.8 L1719.5,1276.3 L1721.4,1276.8 L1723.4,1277.4 L1725.5,1278.0 L1727.5,1278.5 L1729.5,1279.2 L1731.6,1279.8 L1733.7,1280.4 L1735.7,1281.0 L1737.9,1281.7 L1740.3,1282.4 L1742.9,1283.3 L1745.6,1284.1 L1748.3,1285.0 L1751.0,1285.9 L1753.5,1286.7 L1755.7,1287.5 L1757.6,1288.1 L1759.0,1288.6 L1760.0,1288.9 L1760.3,1289.0"/>
<path class="c" stroke="#f14040" d="M170.5,896.8 L171.3,897.7 L173.2,899.7 L175.0,902.0 L176.0,903.7 L177.0,905.6 L178.0,907.5 L179.0,909.4 L180.0,911.0 L181.8,913.8 L183.6,915.3 L185.6,913.8 L187.5,911.0 L188.6,909.1 L189.4,907.1 L190.2,904.6 L190.6,902.9 L191.0,901.1 L191.3,899.1 L191.7,896.9 L191.9,894.7 L192.2,892.4 L192.5,890.1 L192.8,887.7 L193.0,885.8 L193.3,883.9 L193.5,881.9 L193.7,879.9 L193.9,877.8 L194.1,875.7 L194.3,873.5 L194.5,871.3 L194.7,869.1 L194.9,866.9 L195.1,864.6 L195.3,862.3 L195.5,860.0 L195.7,858.2 L195.8,856.3 L195.9,854.5 L196.1,852.6 L196.2,850.7 L196.4,848.8 L196.5,846.9 L196.7,844.9 L196.8,843.0 L196.9,841.0 L197.1,839.0 L197.2,836.9 L197.3,834.9 L197.5,832.8 L197.6,830.7 L197.8,828.6 L197.9,826.5 L198.0,824.4 L198.2,822.2 L198.3,820.0 L198.4,818.2 L198.5,816.4 L198.6,814.5 L198.8,812.6 L198.9,810.7 L199.0,808.8 L199.1,806.8 L199.2,804.9 L199.3,802.9 L199.4,800.9 L199.6,798.9 L199.7,796.9 L199.8,794.8 L199.9,792.8 L200.0,790.8 L200.1,788.7 L200.2,786.6 L200.3,784.6 L200.4,782.5 L200.6,780.5 L200.7,778.4 L200.8,776.3 L200.9,774.3 L201.0,772.2 L201.1,770.1 L201.2,768.1 L201.3,766.1 L201.4,764.0 L201.5,762.0 L201.6,760.0 L201.7,758.0 L201.8,756.0 L201.9,754.0 L202.0,752.0 L202.1,749.9 L202.2,747.9 L202.3,745.9 L202.3,743.9 L202.4,741.8 L202.5,739.8 L202.6,737.8 L202.7,735.7 L202.8,733.7 L202.9,731.7 L203.0,729.7 L203.0,727.6 L203.1,725.6 L203.2,723.6 L203.3,721.6 L203.4,719.6 L203.5,717.6 L203.5,715.6 L203.6,713.6 L203.7,711.7 L203.8,709.7 L203.9,707.7 L204.0,705.8 L204.0,703.8 L204.1,701.9 L204.2,700.0 L204.3,697.9 L204.4,695.8 L204.5,693.8 L204.6,691.7 L204.6,689.6 L204.7,687.6 L204.8,685.5 L204.9,683.5 L205.0,681.4 L205.1,679.4 L205.2,677.4 L205.3,675.4 L205.4,673.4 L205.4,671.4 L205.5,669.4 L205.6,667.4 L205.7,665.4 L205.8,663.5 L205.9,661.5 L206.0,659.6 L206.0,657.6 L206.1,655.7 L206.2,653.8 L206.3,651.9 L206.4,650.0 L206.5,647.9 L206.6,645.8 L206.7,643.7 L206.8,641.6 L206.9,639.6 L207.0,637.5 L207.1,635.4 L207.2,633.4 L207.3,631.4 L207.4,629.4 L207.5,627.4 L207.6,625.4 L207.7,623.4 L207.8,621.4 L207.9,619.5 L208.0,617.6 L208.1,615.6 L208.2,613.7 L208.3,611.9 L208.4,610.0 L208.5,607.9 L208.6,605.8 L208.7,603.7 L208.8,601.6 L208.9,599.6 L209.0,597.6 L209.1,595.6 L209.2,593.6 L209.2,591.6 L209.3,589.7 L209.4,587.7 L209.5,585.8 L209.6,583.8 L209.6,581.9 L209.7,580.0 L209.8,577.8 L209.8,575.7 L209.9,573.5 L209.9,571.4 L209.9,569.3 L210.0,567.2 L210.0,565.1 L210.0,563.0 L210.1,560.9 L210.1,558.8 L210.2,556.7 L210.3,554.6 L210.4,552.6 L210.5,550.5 L210.6,548.4 L210.7,546.4 L210.9,544.3 L211.0,542.2 L211.2,540.1 L211.3,538.1 L211.5,536.0 L211.7,533.9 L211.9,531.8 L212.1,529.8 L212.3,527.7 L212.5,525.6 L212.8,523.6 L213.1,521.5 L213.4,519.4 L213.7,517.4 L214.0,515.3 L214.3,513.3 L214.6,511.2 L215.0,509.1 L215.3,507.1 L215.6,505.0 L216.0,503.0 L216.3,500.9 L216.6,498.8 L217.0,496.8 L217.3,494.7 L217.7,492.6 L218.0,490.5 L218.4,488.5 L218.7,486.4 L219.1,484.3 L219.5,482.3 L219.9,480.2 L220.2,478.1 L220.6,476.1 L221.0,474.0 L221.4,471.9 L221.8,469.9 L222.2,467.8 L222.6,465.7 L223.0,463.7 L223.4,461.6 L223.8,459.6 L224.3,457.5 L224.7,455.4 L225.1,453.4 L225.5,451.3 L226.0,449.3 L226.4,447.2 L226.8,445.1 L227.2,443.0 L227.6,440.9 L227.9,438.8 L228.3,436.6 L228.7,434.5 L229.1,432.4 L229.5,430.3 L229.9,428.2 L230.4,426.2 L230.9,424.2 L231.5,422.2 L232.1,420.3 L232.8,418.3 L233.6,416.3 L234.4,414.4 L235.3,412.5 L236.2,410.7 L237.1,408.8 L238.0,407.0 L239.0,405.3 L240.0,403.5 L241.1,401.8 L242.1,400.1 L243.2,398.4 L244.3,396.7 L245.5,395.0 L246.7,393.4 L247.9,391.8 L249.2,390.2 L250.5,388.7 L251.7,387.1 L253.0,385.7 L254.3,384.2 L255.8,382.5 L257.3,380.9 L258.9,379.4 L260.4,377.8 L262.0,376.3 L263.6,374.9 L265.3,373.4 L267.0,371.9 L268.5,370.6 L270.1,369.3 L271.7,368.0 L273.3,366.8 L275.0,365.5 L276.7,364.2 L278.4,363.0 L280.1,361.8 L281.8,360.6 L283.5,359.4 L285.2,358.2 L287.0,357.1 L288.8,355.9 L290.6,354.8 L292.4,353.7 L294.2,352.6 L296.1,351.6 L297.9,350.5 L299.7,349.6 L301.5,348.6 L303.4,347.7 L305.2,346.7 L307.0,345.9 L308.8,345.0 L310.7,344.2 L312.5,343.4 L314.4,342.7 L316.3,341.9 L318.3,341.1 L320.1,340.4 L322.0,339.7 L323.8,339.0 L325.7,338.4 L327.6,337.7 L329.6,337.1 L331.6,336.4 L333.6,335.8 L335.6,335.1 L337.7,334.5 L339.9,333.8 L341.7,333.3 L343.4,332.8 L345.2,332.2 L347.1,331.7 L348.9,331.2 L350.8,330.7 L352.7,330.2 L354.7,329.7 L356.6,329.2 L358.6,328.7 L360.6,328.1 L362.6,327.6 L364.7,327.0 L366.8,326.4 L368.9,325.8 L371.0,325.2 L373.2,324.5 L374.9,324.0 L376.6,323.4 L378.4,322.8 L380.2,322.2 L382.0,321.6 L383.8,320.9 L385.6,320.2 L387.5,319.6 L389.4,318.9 L391.3,318.2 L393.2,317.5 L395.1,316.8 L397.0,316.0 L399.0,315.3 L400.9,314.6 L402.9,313.9 L404.8,313.2 L406.8,312.4 L408.8,311.7 L410.7,311.0 L412.7,310.3 L414.7,309.6 L416.7,308.9 L418.7,308.3 L420.6,307.6 L422.6,307.0 L424.6,306.4 L426.5,305.8 L428.4,305.2 L430.3,304.7 L432.3,304.1 L434.2,303.6 L436.1,303.0 L438.1,302.5 L440.1,302.0 L442.0,301.5 L444.0,300.9 L446.0,300.4 L447.9,299.9 L449.9,299.4 L451.9,298.9 L453.9,298.4 L455.8,298.0 L457.8,297.5 L459.8,297.0 L461.8,296.6 L463.7,296.1 L465.7,295.6 L467.6,295.2 L469.6,294.8 L471.5,294.3 L473.5,293.9 L475.4,293.5 L477.3,293.0 L479.2,292.6 L481.1,292.2 L483.0,291.8 L485.1,291.4 L487.2,290.9 L489.4,290.5 L491.6,290.0 L493.7,289.6 L495.9,289.1 L498.1,288.7 L500.3,288.3 L502.5,287.9 L504.7,287.5 L506.9,287.1 L509.0,286.7 L511.1,286.3 L513.2,285.9 L515.3,285.6 L517.3,285.2 L519.3,284.9 L521.2,284.5 L523.1,284.2 L524.9,283.9 L526.6,283.6 L528.3,283.4 L529.9,283.1 L531.4,282.9 L533.8,282.6 L535.9,282.3 L537.8,282.1 L539.6,281.9 L541.4,281.7 L543.3,281.5 L545.3,281.3 L547.5,281.0 L549.2,280.7 L551.1,280.4 L553.1,280.0 L555.1,279.6 L557.2,279.2 L559.4,278.8 L561.5,278.3 L563.7,277.9 L565.9,277.5 L568.1,277.0 L570.3,276.6 L572.4,276.2 L574.4,275.9 L576.3,275.6 L578.1,275.4 L579.8,275.2 L582.1,275.0 L584.3,274.9 L586.3,274.8 L588.2,274.8 L590.2,274.9 L592.2,275.0 L594.3,275.2 L596.4,275.4 L598.5,275.8 L600.7,276.1 L602.9,276.5 L605.2,277.0 L607.4,277.5 L609.6,278.1 L611.7,278.8 L613.7,279.5 L615.7,280.4 L617.6,281.4 L619.5,282.6 L621.3,283.8 L623.1,284.9 L624.8,286.0 L626.5,286.9 L628.2,287.6 L630.7,288.3 L633.1,288.8 L635.4,289.0 L637.9,288.9 L639.9,288.6 L642.0,288.0 L644.1,287.3 L646.1,286.5 L648.1,285.7 L650.0,285.2 L652.5,284.7 L654.8,284.3 L657.2,283.9 L659.3,283.5 L661.4,283.1 L663.7,282.7 L666.1,282.3 L667.9,282.1 L670.0,281.9 L672.2,281.8 L674.4,281.7 L676.6,281.5 L678.7,281.2 L680.6,280.9 L682.3,280.4 L684.3,279.6 L686.0,278.6 L687.5,277.4 L689.0,276.0 L690.3,274.5 L691.5,272.8 L692.6,271.0 L693.7,269.0 L694.9,267.1 L696.0,265.2 L697.1,263.3 L698.3,261.3 L699.4,259.4 L700.5,257.4 L701.7,255.6 L703.0,254.0 L704.5,252.4 L706.1,250.9 L707.7,249.6 L709.4,248.4 L711.3,247.4 L713.4,246.6 L715.6,246.0 L717.9,245.6 L720.3,245.3 L722.6,245.2 L724.9,245.2 L727.2,245.2 L729.4,245.5 L731.7,245.9 L733.9,246.5 L735.9,247.3 L737.9,248.2 L739.9,249.3 L741.8,250.6 L743.6,251.8 L745.2,253.1 L746.9,254.7 L748.4,256.4 L749.7,258.2 L751.0,260.0 L752.3,261.9 L753.6,263.9 L754.8,266.0 L756.0,268.4 L756.8,270.1 L757.6,272.0 L758.4,274.0 L759.2,276.1 L760.0,278.2 L760.7,280.3 L761.4,282.4 L762.1,284.5 L762.7,286.5 L763.3,288.5 L763.9,290.6 L764.4,292.6 L764.9,294.6 L765.4,296.7 L765.9,298.7 L766.5,300.7 L767.1,302.7 L767.6,304.8 L768.2,306.9 L768.8,308.9 L769.4,311.0 L770.0,313.0 L770.6,314.9 L771.3,316.8 L772.1,319.0 L773.0,321.3 L773.9,323.4 L774.9,325.5 L775.9,327.4 L777.0,329.0 L778.9,331.4 L781.0,333.3 L783.1,334.1 L785.1,333.2 L787.1,331.2 L789.0,329.0 L790.6,327.3 L792.1,325.5 L793.6,323.6 L795.2,321.7 L796.4,320.1 L797.7,318.4 L798.9,316.7 L800.2,315.0 L801.6,313.4 L803.0,312.0 L805.1,310.2 L807.3,308.4 L809.5,307.1 L811.4,306.8 L813.2,307.9 L814.7,310.2 L816.0,313.0 L816.6,314.5 L817.2,316.1 L817.7,317.9 L818.2,319.9 L818.6,321.9 L819.0,324.1 L819.4,326.2 L819.8,328.5 L820.2,330.7 L820.6,333.0 L820.9,334.8 L821.2,336.6 L821.5,338.6 L821.7,340.5 L822.0,342.5 L822.2,344.5 L822.4,346.5 L822.7,348.6 L822.9,350.7 L823.1,352.8 L823.4,354.9 L823.6,357.0 L823.8,359.1 L824.1,361.1 L824.3,363.2 L824.6,365.2 L824.9,367.2 L825.2,369.3 L825.4,371.3 L825.7,373.4 L826.0,375.5 L826.3,377.6 L826.6,379.7 L826.9,381.7 L827.2,383.8 L827.5,385.8 L827.8,387.8 L828.1,389.8 L828.4,391.8 L828.7,393.7 L829.1,395.6 L829.4,397.5 L829.8,399.7 L830.2,401.8 L830.6,403.8 L831.0,405.8 L831.5,407.8 L831.9,409.7 L832.3,411.7 L832.8,413.7 L833.2,415.7 L833.7,417.8 L834.2,420.0 L834.6,421.9 L835.0,423.8 L835.5,425.9 L835.9,427.9 L836.3,430.1 L836.8,432.2 L837.3,434.4 L837.7,436.5 L838.2,438.7 L838.7,440.8 L839.2,442.9 L839.7,444.9 L840.2,446.9 L840.7,448.8 L841.3,450.6 L841.8,452.3 L842.6,454.6 L843.5,456.9 L844.4,459.0 L845.3,461.0 L846.2,463.0 L847.1,464.8 L847.9,466.6 L848.8,468.4 L849.8,470.6 L850.8,472.7 L851.8,474.6 L852.8,476.4 L854.0,478.0 L855.9,480.0 L858.0,481.6 L860.0,482.2 L861.9,481.4 L863.8,479.5 L865.5,477.5 L866.7,475.9 L867.8,474.2 L869.0,472.4 L870.2,470.5 L871.4,468.9 L872.6,467.3 L873.9,465.7 L875.2,464.0 L876.6,462.3 L878.0,460.5 L879.2,459.0 L880.5,457.4 L881.8,455.8 L883.1,454.1 L884.4,452.5 L885.7,450.8 L887.1,449.2 L888.4,447.5 L889.7,446.0 L890.9,444.4 L892.2,442.9 L893.5,441.3 L894.8,439.8 L896.1,438.2 L897.4,436.7 L898.7,435.1 L900.0,433.5 L901.4,431.9 L902.8,430.2 L904.1,428.6 L905.5,426.9 L906.9,425.3 L908.3,423.6 L909.7,421.9 L911.1,420.2 L912.5,418.5 L913.8,416.9 L915.0,415.2 L916.3,413.5 L917.6,411.8 L918.8,410.1 L920.1,408.4 L921.3,406.7 L922.6,404.9 L923.8,403.2 L925.0,401.5 L926.2,399.8 L927.4,398.1 L928.6,396.5 L929.8,394.8 L930.9,393.2 L932.1,391.5 L933.2,389.8 L934.4,388.0 L935.6,386.3 L936.7,384.5 L937.7,382.8 L938.8,381.1 L939.8,379.3 L940.9,377.4 L941.9,375.6 L943.0,373.7 L944.0,371.9 L945.0,370.1 L946.0,368.3 L946.9,366.6 L947.9,365.0 L948.8,363.5 L950.1,361.4 L951.3,359.4 L952.5,357.5 L953.7,355.7 L954.8,354.0 L956.0,352.5 L957.7,350.4 L959.3,348.7 L961.0,347.3 L963.2,346.1 L965.4,345.7 L967.3,346.4 L969.2,347.9 L971.0,350.0 L971.9,351.4 L972.8,353.0 L973.6,354.9 L974.4,356.9 L975.1,359.1 L975.9,361.3 L976.5,363.7 L977.2,366.0 L977.8,368.4 L978.2,370.2 L978.6,372.0 L978.9,373.9 L979.3,375.8 L979.6,377.8 L979.9,379.8 L980.1,381.9 L980.4,383.9 L980.6,386.0 L980.9,388.2 L981.1,390.3 L981.3,392.4 L981.6,394.5 L981.8,396.6 L982.0,398.7 L982.3,400.7 L982.6,402.7 L982.8,404.7 L983.1,406.8 L983.3,408.8 L983.6,410.8 L983.8,412.8 L984.1,414.8 L984.3,416.9 L984.5,418.9 L984.8,420.9 L985.0,422.9 L985.3,424.9 L985.5,426.9 L985.8,429.0 L986.0,431.0 L986.3,433.0 L986.6,435.0 L986.8,437.0 L987.1,439.0 L987.4,441.1 L987.6,443.1 L987.9,445.1 L988.2,447.1 L988.5,449.1 L988.7,451.1 L989.0,453.1 L989.3,455.1 L989.6,457.1 L989.9,459.2 L990.1,461.2 L990.4,463.2 L990.7,465.2 L991.0,467.2 L991.3,469.2 L991.6,471.3 L991.8,473.3 L992.1,475.3 L992.4,477.3 L992.7,479.3 L993.0,481.3 L993.3,483.4 L993.6,485.4 L993.9,487.4 L994.2,489.4 L994.4,491.4 L994.7,493.5 L995.0,495.5 L995.2,497.5 L995.4,499.5 L995.7,501.5 L995.9,503.6 L996.1,505.6 L996.3,507.6 L996.5,509.7 L996.7,511.7 L996.9,513.7 L997.1,515.7 L997.3,517.8 L997.5,519.8 L997.7,521.8 L997.9,523.8 L998.0,525.8 L998.2,527.8 L998.4,529.8 L998.6,531.8 L998.8,533.8 L998.9,535.8 L999.1,537.8 L999.3,539.7 L999.4,541.7 L999.6,543.6 L999.8,545.6 L999.9,547.5 L1000.1,549.5 L1000.3,551.6 L1000.4,553.6 L1000.6,555.7 L1000.8,557.8 L1001.0,560.0 L1001.2,561.8 L1001.3,563.7 L1001.5,565.6 L1001.7,567.5 L1001.8,569.4 L1002.0,571.3 L1002.2,573.2 L1002.4,575.2 L1002.5,577.2 L1002.7,579.2 L1002.9,581.2 L1003.1,583.2 L1003.3,585.3 L1003.5,587.3 L1003.7,589.4 L1003.8,591.5 L1004.0,593.7 L1004.2,595.8 L1004.4,597.9 L1004.6,600.1 L1004.8,602.3 L1005.0,604.5 L1005.2,606.3 L1005.3,608.2 L1005.5,610.1 L1005.7,612.0 L1005.8,613.9 L1006.0,615.9 L1006.2,617.8 L1006.4,619.8 L1006.5,621.8 L1006.7,623.8 L1006.9,625.8 L1007.1,627.8 L1007.2,629.9 L1007.4,631.9 L1007.6,634.0 L1007.8,636.1 L1008.0,638.1 L1008.1,640.2 L1008.3,642.3 L1008.5,644.3 L1008.7,646.4 L1008.9,648.5 L1009.0,650.6 L1009.2,652.7 L1009.4,654.7 L1009.6,656.8 L1009.7,658.9 L1009.9,660.9 L1010.1,663.0 L1010.3,665.0 L1010.4,667.1 L1010.6,669.1 L1010.8,671.1 L1010.9,673.2 L1011.1,675.2 L1011.3,677.2 L1011.4,679.3 L1011.6,681.3 L1011.8,683.4 L1011.9,685.5 L1012.1,687.5 L1012.3,689.6 L1012.5,691.7 L1012.6,693.8 L1012.8,695.8 L1013.0,697.9 L1013.1,700.0 L1013.3,702.0 L1013.4,704.1 L1013.6,706.1 L1013.8,708.2 L1013.9,710.2 L1014.1,712.2 L1014.2,714.2 L1014.4,716.2 L1014.6,718.2 L1014.7,720.2 L1014.9,722.2 L1015.0,724.1 L1015.1,726.0 L1015.3,728.0 L1015.4,729.9 L1015.6,731.7 L1015.7,733.6 L1015.9,735.8 L1016.0,737.9 L1016.1,740.0 L1016.3,742.0 L1016.4,744.1 L1016.6,746.1 L1016.7,748.1 L1016.8,750.1 L1016.9,752.0 L1017.1,754.0 L1017.2,755.9 L1017.3,757.9 L1017.4,759.8 L1017.5,761.8 L1017.7,763.7 L1017.8,765.7 L1017.9,767.7 L1018.0,769.6 L1018.2,771.7 L1018.3,773.7 L1018.4,775.8 L1018.6,777.9 L1018.7,780.0 L1018.8,781.9 L1018.9,783.8 L1019.1,785.7 L1019.2,787.7 L1019.3,789.6 L1019.4,791.6 L1019.6,793.6 L1019.7,795.5 L1019.8,797.5 L1020.0,799.6 L1020.1,801.6 L1020.2,803.6 L1020.3,805.6 L1020.5,807.7 L1020.6,809.7 L1020.7,811.8 L1020.9,813.8 L1021.0,815.9 L1021.1,817.9 L1021.3,820.0 L1021.4,822.1 L1021.6,824.1 L1021.7,826.2 L1021.8,828.2 L1022.0,830.3 L1022.1,832.3 L1022.3,834.3 L1022.4,836.4 L1022.6,838.4 L1022.7,840.4 L1022.9,842.5 L1023.0,844.6 L1023.2,846.7 L1023.3,848.9 L1023.5,851.0 L1023.6,853.2 L1023.8,855.4 L1024.0,857.6 L1024.1,859.8 L1024.3,862.0 L1024.4,864.2 L1024.6,866.4 L1024.8,868.6 L1024.9,870.8 L1025.1,873.0 L1025.3,875.1 L1025.4,877.2 L1025.6,879.4 L1025.8,881.4 L1026.0,883.5 L1026.1,885.5 L1026.3,887.5 L1026.5,889.4 L1026.6,891.3 L1026.8,893.1 L1027.0,894.9 L1027.2,896.7 L1027.3,898.4 L1027.5,900.0 L1027.8,902.4 L1028.0,904.7 L1028.3,906.9 L1028.6,909.1 L1028.8,911.1 L1029.1,913.1 L1029.4,915.0 L1029.6,916.9 L1029.9,918.8 L1030.2,920.6 L1030.5,922.4 L1030.8,924.2 L1031.2,926.4 L1031.6,928.5 L1031.9,930.6 L1032.3,932.6 L1032.7,934.5 L1033.1,936.5 L1033.6,938.4 L1034.0,940.3 L1034.5,942.6 L1035.1,944.9 L1035.6,947.2 L1036.2,949.4 L1036.8,951.5 L1037.5,953.5 L1038.4,956.0 L1039.4,958.6 L1040.5,960.6 L1041.5,961.4 L1042.5,960.6 L1043.5,958.6 L1044.6,956.0 L1045.5,953.5 L1046.2,951.5 L1046.9,949.4 L1047.6,947.2 L1048.2,944.9 L1048.8,942.6 L1049.4,940.3 L1049.9,938.4 L1050.3,936.5 L1050.8,934.5 L1051.2,932.6 L1051.7,930.6 L1052.1,928.5 L1052.6,926.4 L1053.0,924.2 L1053.4,922.4 L1053.7,920.5 L1054.1,918.6 L1054.4,916.7 L1054.8,914.8 L1055.2,912.8 L1055.5,910.8 L1055.9,908.7 L1056.3,906.6 L1056.6,904.4 L1057.0,902.2 L1057.4,900.0 L1057.7,898.2 L1058.0,896.3 L1058.4,894.3 L1058.7,892.3 L1059.0,890.3 L1059.3,888.3 L1059.7,886.2 L1060.0,884.1 L1060.3,882.0 L1060.7,879.9 L1061.0,877.7 L1061.4,875.6 L1061.7,873.4 L1062.0,871.2 L1062.4,869.1 L1062.7,866.9 L1063.0,864.8 L1063.4,862.7 L1063.7,860.6 L1064.0,858.6 L1064.3,856.5 L1064.6,854.4 L1065.0,852.2 L1065.3,850.1 L1065.6,847.9 L1065.9,845.7 L1066.2,843.5 L1066.5,841.4 L1066.9,839.2 L1067.2,837.1 L1067.5,835.0 L1067.8,832.9 L1068.1,830.9 L1068.4,829.0 L1068.7,827.1 L1069.1,825.3 L1069.4,823.5 L1069.7,821.9 L1070.0,820.3 L1070.5,817.8 L1071.1,815.5 L1071.6,813.4 L1072.2,811.5 L1072.7,809.5 L1073.3,807.6 L1073.8,805.6 L1074.4,803.3 L1075.0,800.9 L1075.5,798.6 L1076.1,796.3 L1076.8,794.1 L1077.5,792.1 L1078.5,789.9 L1079.6,787.8 L1080.7,785.9 L1081.9,784.1 L1083.5,782.0 L1085.2,780.0 L1087.0,778.0 L1088.4,776.6 L1089.9,775.2 L1091.3,773.7 L1092.6,772.0 L1093.7,770.1 L1094.6,767.9 L1095.4,765.7 L1096.2,763.3 L1097.0,760.9 L1097.7,759.0 L1098.3,757.0 L1098.9,755.1 L1099.5,753.0 L1100.2,751.0 L1100.8,748.9 L1101.4,746.8 L1102.0,744.8 L1102.6,742.7 L1103.3,740.5 L1103.9,738.4 L1104.5,736.2 L1105.1,734.1 L1105.6,732.0 L1106.1,730.0 L1106.6,727.7 L1107.0,725.6 L1107.4,723.5 L1107.8,721.4 L1108.2,719.1 L1108.7,716.7 L1109.1,714.9 L1109.5,713.1 L1109.9,711.1 L1110.3,709.2 L1110.8,707.1 L1111.2,705.0 L1111.7,702.9 L1112.2,700.8 L1112.7,698.7 L1113.1,696.6 L1113.6,694.5 L1114.1,692.5 L1114.6,690.5 L1115.0,688.4 L1115.5,686.3 L1116.0,684.3 L1116.4,682.2 L1116.9,680.1 L1117.4,678.1 L1117.9,676.0 L1118.4,674.0 L1119.0,672.1 L1119.6,670.2 L1120.2,668.4 L1120.9,666.4 L1121.7,664.3 L1122.5,662.3 L1123.4,660.4 L1124.2,658.5 L1125.1,656.7 L1126.1,655.0 L1127.0,653.4 L1128.0,652.0 L1129.7,649.8 L1131.5,647.8 L1133.3,646.3 L1135.1,645.7 L1136.9,646.3 L1138.7,647.8 L1140.4,649.8 L1142.0,652.0 L1142.9,653.4 L1143.8,655.0 L1144.6,656.8 L1145.4,658.6 L1146.2,660.6 L1146.9,662.6 L1147.5,664.7 L1148.2,666.9 L1148.8,669.1 L1149.2,670.8 L1149.6,672.6 L1150.0,674.5 L1150.4,676.4 L1150.7,678.4 L1151.0,680.4 L1151.3,682.5 L1151.5,684.6 L1151.8,686.7 L1152.1,688.8 L1152.3,690.9 L1152.6,693.1 L1152.8,695.2 L1153.1,697.3 L1153.3,699.4 L1153.6,701.4 L1153.9,703.4 L1154.1,705.4 L1154.4,707.5 L1154.6,709.5 L1154.9,711.6 L1155.1,713.6 L1155.4,715.7 L1155.6,717.7 L1155.9,719.7 L1156.1,721.8 L1156.4,723.8 L1156.6,725.8 L1156.9,727.8 L1157.1,729.7 L1157.4,731.7 L1157.7,733.6 L1158.0,735.7 L1158.4,737.8 L1158.8,740.0 L1159.2,742.0 L1159.5,744.1 L1159.9,746.2 L1160.3,748.2 L1160.7,750.2 L1161.1,752.2 L1161.4,754.2 L1161.8,756.2 L1162.0,758.1 L1162.3,760.0 L1162.5,762.1 L1162.7,764.0 L1162.9,765.9 L1163.0,767.8 L1163.1,769.7 L1163.2,771.6 L1163.3,773.5 L1163.5,775.5 L1163.6,777.7 L1163.8,780.0 L1163.9,781.7 L1164.1,783.4 L1164.3,785.1 L1164.4,786.9 L1164.6,788.8 L1164.8,790.6 L1164.9,792.6 L1165.1,794.5 L1165.3,796.5 L1165.5,798.6 L1165.7,800.6 L1165.9,802.7 L1166.1,804.8 L1166.3,807.0 L1166.6,809.1 L1166.8,811.3 L1167.0,813.5 L1167.2,815.7 L1167.4,817.9 L1167.6,820.1 L1167.8,822.3 L1168.0,824.5 L1168.2,826.3 L1168.3,828.2 L1168.5,830.1 L1168.7,832.0 L1168.8,833.9 L1169.0,835.9 L1169.2,837.8 L1169.4,839.8 L1169.6,841.8 L1169.7,843.8 L1169.9,845.8 L1170.1,847.8 L1170.3,849.9 L1170.4,851.9 L1170.6,854.0 L1170.8,856.0 L1171.0,858.1 L1171.2,860.2 L1171.3,862.3 L1171.5,864.3 L1171.7,866.4 L1171.9,868.5 L1172.1,870.6 L1172.2,872.7 L1172.4,874.7 L1172.6,876.8 L1172.8,878.9 L1172.9,880.9 L1173.1,883.0 L1173.3,885.0 L1173.4,887.1 L1173.6,889.1 L1173.8,891.1 L1173.9,893.1 L1174.1,895.2 L1174.2,897.2 L1174.4,899.2 L1174.5,901.3 L1174.7,903.3 L1174.8,905.4 L1175.0,907.4 L1175.1,909.4 L1175.3,911.5 L1175.4,913.5 L1175.6,915.6 L1175.7,917.6 L1175.9,919.6 L1176.0,921.7 L1176.2,923.7 L1176.3,925.8 L1176.4,927.8 L1176.6,929.8 L1176.7,931.8 L1176.9,933.8 L1177.0,935.8 L1177.2,937.9 L1177.4,939.8 L1177.5,941.8 L1177.7,943.8 L1177.8,945.8 L1178.0,947.8 L1178.2,949.7 L1178.3,951.7 L1178.5,953.6 L1178.7,955.7 L1178.9,957.8 L1179.1,960.0 L1179.3,962.1 L1179.5,964.2 L1179.7,966.3 L1179.9,968.4 L1180.1,970.5 L1180.3,972.6 L1180.6,974.7 L1180.8,976.8 L1181.0,978.9 L1181.2,981.0 L1181.4,983.1 L1181.6,985.1 L1181.9,987.2 L1182.1,989.2 L1182.3,991.2 L1182.5,993.2 L1182.7,995.2 L1182.9,997.1 L1183.2,999.1 L1183.4,1001.0 L1183.6,1002.9 L1183.8,1004.7 L1184.0,1006.6 L1184.2,1008.4 L1184.5,1010.7 L1184.7,1013.0 L1184.9,1015.3 L1185.2,1017.6 L1185.4,1019.9 L1185.7,1022.1 L1185.9,1024.3 L1186.1,1026.5 L1186.4,1028.7 L1186.6,1030.8 L1186.9,1032.8 L1187.1,1034.8 L1187.4,1036.7 L1187.6,1038.6 L1187.9,1040.4 L1188.1,1042.1 L1188.4,1043.7 L1188.9,1046.3 L1189.3,1048.8 L1189.7,1051.0 L1190.2,1053.1 L1190.8,1055.1 L1191.5,1057.0 L1192.6,1059.1 L1193.8,1061.1 L1195.1,1062.8 L1196.5,1064.5 L1198.4,1066.2 L1200.5,1067.7 L1202.3,1069.5 L1203.4,1071.2 L1204.4,1073.0 L1205.2,1074.9 L1206.0,1077.0 L1206.6,1078.8 L1207.1,1080.7 L1207.5,1082.7 L1207.9,1084.8 L1208.3,1086.9 L1208.7,1089.1 L1209.1,1091.0 L1209.4,1093.0 L1209.8,1095.0 L1210.2,1097.0 L1210.5,1099.1 L1210.9,1101.1 L1211.2,1103.2 L1211.5,1105.2 L1211.8,1107.2 L1212.1,1109.1 L1212.4,1111.0 L1212.6,1112.9 L1212.9,1114.9 L1213.1,1117.0 L1213.4,1119.1 L1213.6,1121.4 L1213.8,1123.1 L1213.9,1124.9 L1214.0,1126.7 L1214.1,1128.6 L1214.2,1130.5 L1214.3,1132.5 L1214.4,1134.5 L1214.5,1136.6 L1214.6,1138.6 L1214.7,1140.8 L1214.8,1142.9 L1215.0,1145.0 L1215.1,1147.2 L1215.2,1149.3 L1215.4,1151.5 L1215.6,1153.6 L1215.8,1155.6 L1216.0,1157.5 L1216.2,1159.5 L1216.4,1161.5 L1216.7,1163.5 L1216.9,1165.5 L1217.2,1167.6 L1217.4,1169.6 L1217.7,1171.7 L1218.0,1173.8 L1218.2,1175.9 L1218.5,1178.0 L1218.8,1180.1 L1219.1,1182.2 L1219.4,1184.3 L1219.7,1186.4 L1220.0,1188.6 L1220.2,1190.7 L1220.5,1192.9 L1220.8,1195.0 L1221.0,1197.0 L1221.3,1198.9 L1221.6,1201.0 L1221.8,1203.0 L1222.1,1205.1 L1222.3,1207.2 L1222.6,1209.3 L1222.9,1211.4 L1223.1,1213.5 L1223.4,1215.6 L1223.7,1217.7 L1223.9,1219.9 L1224.2,1222.0 L1224.5,1224.1 L1224.7,1226.1 L1225.0,1228.2 L1225.3,1230.2 L1225.5,1232.2 L1225.8,1234.2 L1226.1,1236.1 L1226.3,1238.0 L1226.6,1239.8 L1226.8,1241.6 L1227.1,1243.3 L1227.4,1245.6 L1227.8,1247.8 L1228.1,1250.0 L1228.4,1252.2 L1228.7,1254.3 L1229.0,1256.4 L1229.3,1258.4 L1229.7,1260.4 L1230.0,1262.3 L1230.3,1264.1 L1230.7,1265.8 L1231.0,1267.5 L1231.4,1269.1 L1232.1,1271.6 L1232.7,1274.0 L1233.4,1276.1 L1234.2,1278.1 L1235.0,1280.0 L1236.2,1282.4 L1237.5,1284.7 L1239.0,1286.5 L1241.3,1288.3 L1244.0,1289.5 L1246.2,1290.0 L1248.6,1290.1 L1251.0,1290.2 L1252.9,1290.2 L1254.8,1290.2 L1257.0,1290.2 L1258.7,1290.2 L1260.5,1290.2 L1262.3,1290.2 L1264.5,1290.2 L1267.0,1290.2 L1270.0,1290.2 L1271.0,1290.2 L1272.0,1290.2 L1273.2,1290.2 L1274.3,1290.2 L1275.6,1290.2 L1276.8,1290.2 L1278.2,1290.2 L1279.6,1290.2 L1281.0,1290.2 L1282.5,1290.2 L1284.1,1290.2 L1285.6,1290.2 L1287.3,1290.2 L1289.0,1290.2 L1290.7,1290.2 L1292.4,1290.2 L1294.2,1290.2 L1296.1,1290.2 L1298.0,1290.2 L1299.9,1290.2 L1301.8,1290.2 L1303.8,1290.2 L1305.8,1290.2 L1307.9,1290.2 L1309.9,1290.2 L1312.0,1290.2 L1314.2,1290.2 L1316.3,1290.2 L1318.5,1290.2 L1320.7,1290.2 L1322.9,1290.2 L1325.1,1290.2 L1327.4,1290.2 L1329.7,1290.2 L1331.9,1290.2 L1334.2,1290.2 L1336.5,1290.2 L1338.8,1290.2 L1341.2,1290.2 L1343.5,1290.2 L1345.8,1290.2 L1348.2,1290.2 L1350.5,1290.2 L1352.9,1290.2 L1355.2,1290.2 L1357.6,1290.2 L1359.9,1290.2 L1362.2,1290.2 L1364.6,1290.2 L1366.9,1290.2 L1369.2,1290.2 L1371.5,1290.2 L1373.8,1290.2 L1376.1,1290.2 L1378.4,1290.2 L1380.6,1290.2 L1382.9,1290.2 L1385.1,1290.2 L1387.3,1290.2 L1389.5,1290.2 L1391.6,1290.2 L1393.8,1290.2 L1395.9,1290.2 L1397.9,1290.2 L1400.0,1290.2 L1402.0,1290.2 L1404.0,1290.2 L1406.0,1290.2 L1408.1,1290.2 L1410.1,1290.2 L1412.2,1290.2 L1414.4,1290.2 L1416.5,1290.2 L1418.7,1290.2 L1420.8,1290.2 L1423.0,1290.2 L1425.2,1290.2 L1427.5,1290.2 L1429.7,1290.2 L1431.9,1290.2 L1434.2,1290.2 L1436.5,1290.2 L1438.7,1290.2 L1441.0,1290.2 L1443.3,1290.2 L1445.6,1290.2 L1447.9,1290.2 L1450.2,1290.2 L1452.5,1290.2 L1454.8,1290.2 L1457.1,1290.2 L1459.4,1290.2 L1461.7,1290.2 L1464.0,1290.2 L1466.3,1290.2 L1468.5,1290.2 L1470.8,1290.1 L1473.1,1290.1 L1475.3,1290.1 L1477.6,1290.1 L1479.8,1290.1 L1482.0,1290.1 L1484.2,1290.1 L1486.4,1290.1 L1488.6,1290.1 L1490.7,1290.1 L1492.9,1290.1 L1495.0,1290.1 L1497.0,1290.1 L1499.1,1290.1 L1501.2,1290.1 L1503.2,1290.1 L1505.2,1290.1 L1507.1,1290.1 L1509.1,1290.1 L1511.0,1290.1 L1512.8,1290.1 L1514.7,1290.1 L1516.5,1290.1 L1518.3,1290.1 L1520.0,1290.1 L1521.7,1290.1 L1523.4,1290.1 L1525.0,1290.1 L1526.6,1290.1 L1528.1,1290.1 L1529.6,1290.0 L1531.1,1290.0 L1532.5,1290.0 L1533.9,1290.0 L1535.2,1290.0 L1536.5,1290.0 L1537.7,1290.0 L1538.9,1290.0 L1540.0,1290.0 L1542.8,1290.0 L1545.3,1290.0 L1547.6,1290.0 L1549.7,1290.0 L1551.6,1289.9 L1553.4,1289.9 L1555.1,1289.9 L1556.8,1289.9 L1558.4,1289.8 L1560.0,1289.8 L1562.5,1289.7 L1564.7,1289.6 L1566.8,1289.5 L1569.0,1289.3 L1571.1,1289.0 L1573.1,1288.7 L1575.3,1288.3 L1577.5,1287.8 L1580.0,1287.3 L1581.7,1286.9 L1583.4,1286.6 L1585.3,1286.1 L1587.2,1285.7 L1589.2,1285.2 L1591.3,1284.7 L1593.4,1284.2 L1595.5,1283.7 L1597.6,1283.2 L1599.7,1282.6 L1601.8,1282.1 L1603.8,1281.5 L1605.8,1281.0 L1607.8,1280.4 L1609.8,1279.8 L1611.9,1279.2 L1613.9,1278.6 L1616.0,1278.0 L1618.0,1277.4 L1620.0,1276.7 L1622.0,1276.1 L1624.0,1275.5 L1625.9,1274.8 L1627.8,1274.2 L1629.6,1273.5 L1631.7,1272.7 L1633.7,1271.8 L1635.7,1270.9 L1637.7,1269.9 L1639.6,1269.0 L1641.4,1268.1 L1643.3,1267.3 L1645.1,1266.6 L1646.8,1266.0 L1649.2,1265.3 L1651.4,1264.7 L1653.6,1264.3 L1655.8,1263.9 L1658.0,1263.8 L1660.0,1263.8 L1662.0,1264.0 L1664.0,1264.3 L1666.0,1264.6 L1668.0,1265.0 L1670.0,1265.5 L1672.3,1266.2 L1674.4,1267.0 L1676.6,1267.8 L1678.9,1268.7 L1681.3,1269.5 L1683.2,1270.0 L1685.2,1270.6 L1687.3,1271.1 L1689.4,1271.7 L1691.6,1272.2 L1693.8,1272.7 L1695.9,1273.2 L1698.0,1273.6 L1700.0,1274.0 L1702.1,1274.4 L1704.0,1274.6 L1705.9,1274.8 L1707.8,1275.1 L1709.8,1275.3 L1711.8,1275.6 L1713.9,1276.0 L1715.7,1276.4 L1717.6,1276.8 L1719.5,1277.3 L1721.4,1277.9 L1723.4,1278.4 L1725.4,1279.0 L1727.5,1279.6 L1729.5,1280.2 L1731.6,1280.8 L1733.7,1281.4 L1735.7,1282.0 L1737.9,1282.6 L1740.3,1283.3 L1742.9,1284.1 L1745.6,1284.9 L1748.3,1285.7 L1751.0,1286.5 L1753.5,1287.2 L1755.7,1287.9 L1757.6,1288.5 L1759.0,1288.9 L1760.0,1289.2 L1760.3,1289.3"/>
<path class="c" stroke="#1a6fdf" d="M170.5,853.9 L171.0,854.8 L172.2,856.8 L173.7,859.5 L175.0,862.0 L175.8,863.8 L176.7,865.7 L177.5,867.6 L178.3,869.5 L179.1,871.3 L180.0,873.0 L181.4,875.7 L182.8,878.2 L184.2,879.3 L186.2,877.9 L188.0,875.0 L188.7,873.3 L189.3,871.4 L189.8,869.3 L190.3,867.0 L190.8,864.6 L191.2,862.3 L191.6,860.4 L191.9,858.5 L192.2,856.6 L192.5,854.6 L192.8,852.6 L193.1,850.5 L193.4,848.4 L193.6,846.3 L193.9,844.2 L194.1,842.3 L194.3,840.4 L194.5,838.5 L194.7,836.5 L194.8,834.6 L195.0,832.6 L195.1,830.6 L195.3,828.5 L195.5,826.4 L195.6,824.2 L195.8,822.0 L195.9,820.2 L196.1,818.4 L196.2,816.5 L196.4,814.7 L196.5,812.8 L196.7,810.8 L196.8,808.9 L197.0,806.9 L197.1,804.9 L197.3,802.8 L197.4,800.7 L197.6,798.7 L197.7,796.5 L197.9,794.4 L198.0,792.2 L198.1,790.0 L198.3,787.8 L198.4,785.6 L198.5,783.8 L198.6,782.0 L198.7,780.1 L198.8,778.2 L198.9,776.3 L198.9,774.3 L199.0,772.4 L199.1,770.4 L199.2,768.4 L199.2,766.4 L199.3,764.3 L199.4,762.3 L199.5,760.2 L199.5,758.2 L199.6,756.1 L199.7,754.0 L199.7,751.9 L199.8,749.8 L199.9,747.8 L200.0,745.7 L200.0,743.6 L200.1,741.5 L200.2,739.4 L200.3,737.4 L200.3,735.3 L200.4,733.3 L200.5,731.2 L200.6,729.2 L200.7,727.2 L200.8,725.2 L200.9,723.2 L201.0,721.1 L201.1,719.1 L201.2,717.1 L201.3,715.1 L201.4,713.1 L201.5,711.1 L201.6,709.1 L201.7,707.0 L201.8,705.0 L201.9,703.0 L202.0,701.0 L202.1,699.0 L202.2,697.0 L202.3,695.0 L202.4,692.9 L202.5,690.9 L202.6,688.9 L202.7,686.9 L202.8,684.9 L202.9,682.9 L203.0,680.9 L203.1,678.8 L203.2,676.8 L203.3,674.8 L203.4,672.8 L203.5,670.8 L203.6,668.7 L203.7,666.7 L203.8,664.6 L203.8,662.6 L203.9,660.5 L204.0,658.4 L204.1,656.3 L204.2,654.2 L204.3,652.2 L204.4,650.1 L204.4,648.0 L204.5,645.9 L204.6,643.8 L204.7,641.8 L204.8,639.7 L204.8,637.7 L204.9,635.6 L205.0,633.6 L205.1,631.6 L205.2,629.6 L205.2,627.7 L205.3,625.7 L205.4,623.8 L205.5,621.9 L205.5,620.0 L205.6,618.2 L205.7,616.4 L205.8,614.2 L205.9,612.0 L206.0,609.9 L206.1,607.8 L206.2,605.7 L206.3,603.7 L206.3,601.7 L206.4,599.7 L206.5,597.8 L206.6,595.8 L206.7,593.9 L206.8,591.9 L206.9,590.0 L207.0,588.0 L207.0,586.0 L207.1,584.1 L207.2,582.0 L207.3,580.0 L207.4,578.0 L207.5,575.9 L207.5,573.9 L207.6,571.8 L207.7,569.7 L207.8,567.6 L207.8,565.5 L207.9,563.4 L208.0,561.3 L208.0,559.2 L208.1,557.1 L208.2,555.0 L208.3,553.0 L208.3,550.9 L208.4,548.9 L208.5,546.9 L208.5,545.0 L208.6,543.1 L208.7,541.2 L208.8,539.0 L208.9,536.8 L209.0,534.7 L209.1,532.6 L209.2,530.5 L209.3,528.5 L209.3,526.4 L209.4,524.4 L209.5,522.4 L209.6,520.4 L209.8,518.4 L209.9,516.4 L210.0,514.3 L210.1,512.2 L210.3,510.2 L210.4,508.1 L210.5,506.0 L210.7,504.0 L210.8,501.9 L211.0,499.9 L211.2,497.8 L211.3,495.7 L211.5,493.7 L211.7,491.6 L211.8,489.6 L212.0,487.5 L212.2,485.4 L212.4,483.4 L212.5,481.3 L212.7,479.2 L212.9,477.2 L213.1,475.1 L213.3,473.0 L213.5,470.9 L213.7,468.9 L213.9,466.8 L214.1,464.7 L214.4,462.7 L214.6,460.6 L214.9,458.5 L215.1,456.5 L215.4,454.4 L215.7,452.3 L215.9,450.2 L216.2,448.2 L216.5,446.1 L216.8,444.0 L217.2,442.0 L217.5,439.9 L217.9,437.8 L218.2,435.8 L218.6,433.7 L219.0,431.6 L219.4,429.5 L219.9,427.4 L220.3,425.2 L220.8,423.1 L221.2,420.9 L221.7,418.8 L222.2,416.7 L222.7,414.6 L223.2,412.6 L223.7,410.6 L224.3,408.7 L224.8,406.9 L225.5,404.6 L226.2,402.5 L226.9,400.4 L227.7,398.3 L228.4,396.4 L229.2,394.4 L229.9,392.5 L230.7,390.6 L231.6,388.4 L232.4,386.2 L233.2,384.1 L234.1,382.0 L235.1,379.9 L236.2,377.8 L237.2,376.1 L238.2,374.4 L239.4,372.8 L240.5,371.1 L241.7,369.4 L243.0,367.8 L244.3,366.3 L245.6,364.8 L247.1,363.2 L248.7,361.6 L250.3,360.1 L252.0,358.6 L253.7,357.2 L255.4,355.9 L257.0,354.7 L258.9,353.5 L260.8,352.4 L262.7,351.4 L264.7,350.6 L266.6,349.8 L268.9,349.0 L271.1,348.4 L273.4,347.9 L275.8,347.6 L278.0,347.5 L280.2,347.5 L282.5,347.6 L285.0,347.7 L287.7,347.8 L289.4,347.8 L291.2,347.8 L293.1,347.8 L295.1,347.8 L297.2,347.8 L299.3,347.8 L301.5,347.8 L303.7,347.8 L305.8,347.8 L308.0,347.9 L310.2,347.9 L312.3,348.0 L314.3,348.1 L316.2,348.2 L318.4,348.4 L320.5,348.6 L322.6,348.8 L324.6,349.1 L326.6,349.3 L328.6,349.6 L330.7,349.9 L332.8,350.2 L334.9,350.5 L337.2,350.8 L339.1,351.0 L341.0,351.3 L342.9,351.5 L344.9,351.8 L347.0,352.0 L349.0,352.3 L351.1,352.5 L353.2,352.8 L355.4,353.1 L357.5,353.3 L359.6,353.6 L361.7,353.8 L363.8,354.0 L365.9,354.2 L368.0,354.4 L370.0,354.6 L372.0,354.8 L374.0,354.9 L376.0,355.0 L378.0,355.1 L380.0,355.2 L382.0,355.3 L384.0,355.4 L385.9,355.5 L387.9,355.6 L389.9,355.7 L391.9,355.7 L393.9,355.8 L395.9,355.9 L397.9,356.1 L400.0,356.2 L402.0,356.3 L403.9,356.5 L405.8,356.6 L407.7,356.8 L409.6,356.9 L411.6,357.1 L413.5,357.3 L415.4,357.4 L417.4,357.6 L419.4,357.8 L421.4,357.9 L423.5,358.1 L425.6,358.3 L427.7,358.5 L429.9,358.7 L432.2,358.9 L434.5,359.1 L436.2,359.2 L438.0,359.4 L439.8,359.6 L441.6,359.7 L443.5,359.9 L445.4,360.1 L447.3,360.2 L449.2,360.4 L451.2,360.6 L453.2,360.8 L455.2,360.9 L457.3,361.1 L459.3,361.3 L461.4,361.5 L463.5,361.7 L465.5,361.9 L467.6,362.1 L469.8,362.2 L471.9,362.4 L474.0,362.6 L476.1,362.8 L478.2,363.0 L480.4,363.2 L482.5,363.4 L484.6,363.6 L486.7,363.7 L488.8,363.9 L490.9,364.1 L493.0,364.3 L495.0,364.5 L497.1,364.6 L499.1,364.8 L501.1,365.0 L503.2,365.1 L505.2,365.3 L507.3,365.5 L509.3,365.6 L511.4,365.8 L513.5,366.0 L515.6,366.1 L517.7,366.3 L519.8,366.4 L521.9,366.6 L524.0,366.8 L526.1,366.9 L528.2,367.1 L530.3,367.2 L532.4,367.4 L534.4,367.5 L536.5,367.7 L538.6,367.9 L540.6,368.0 L542.6,368.2 L544.7,368.3 L546.6,368.5 L548.6,368.6 L550.6,368.8 L552.5,369.0 L554.4,369.1 L556.3,369.3 L558.2,369.4 L560.0,369.6 L561.8,369.7 L563.6,369.9 L565.9,370.1 L568.2,370.3 L570.5,370.5 L572.7,370.7 L575.0,370.8 L577.2,371.0 L579.4,371.2 L581.6,371.4 L583.8,371.5 L585.9,371.7 L587.9,371.9 L589.9,372.1 L591.9,372.3 L593.8,372.5 L595.7,372.7 L597.4,373.0 L599.2,373.2 L600.8,373.5 L602.4,373.8 L604.9,374.3 L607.1,374.8 L609.2,375.3 L611.1,375.9 L613.0,376.5 L614.9,377.2 L616.9,378.1 L618.8,379.1 L620.6,380.3 L622.5,381.6 L624.3,383.0 L626.2,384.4 L627.9,385.7 L629.7,386.8 L631.4,387.7 L633.9,388.7 L636.2,389.4 L638.6,389.8 L641.1,390.1 L643.1,390.1 L645.2,389.9 L647.3,389.6 L649.5,389.3 L651.7,389.0 L654.0,388.8 L655.9,388.7 L657.9,388.7 L660.0,388.7 L662.0,388.8 L664.1,388.8 L666.1,388.9 L668.1,389.0 L670.0,389.1 L672.2,389.3 L674.3,389.6 L676.4,389.9 L678.5,390.2 L680.4,390.4 L682.3,390.4 L685.1,390.2 L687.6,389.8 L690.0,389.0 L691.6,387.9 L693.1,386.6 L694.5,385.0 L696.0,383.5 L697.7,381.7 L699.4,379.9 L701.1,378.1 L703.0,376.5 L704.9,375.3 L706.9,374.2 L709.1,373.4 L711.3,372.6 L713.4,372.0 L715.7,371.4 L718.0,371.0 L720.3,370.8 L722.6,370.7 L724.9,370.8 L727.2,371.2 L729.4,371.7 L731.7,372.3 L733.9,373.2 L735.9,374.1 L737.8,375.2 L739.7,376.4 L741.6,377.8 L743.4,379.3 L745.2,381.0 L746.5,382.3 L747.7,383.8 L749.0,385.3 L750.2,387.0 L751.4,388.7 L752.6,390.5 L753.7,392.2 L754.7,394.0 L755.7,395.8 L756.6,397.5 L757.5,399.5 L758.3,401.5 L759.0,403.5 L759.6,405.5 L760.2,407.5 L760.8,409.5 L761.4,411.6 L762.0,413.6 L762.6,415.6 L763.2,417.6 L763.8,419.7 L764.4,421.7 L765.0,423.7 L765.6,425.8 L766.2,427.8 L766.8,429.8 L767.4,431.9 L768.0,434.0 L768.6,436.2 L769.2,438.3 L769.8,440.4 L770.5,442.4 L771.2,444.2 L772.0,445.9 L773.3,448.1 L774.6,450.0 L776.0,451.6 L777.5,453.0 L779.9,454.7 L782.4,455.5 L784.7,455.1 L787.0,454.0 L788.5,453.0 L790.1,451.7 L791.7,450.1 L793.4,448.5 L795.0,447.0 L796.5,445.6 L798.0,444.2 L799.5,442.7 L801.0,441.2 L802.5,439.8 L804.0,438.5 L805.8,436.8 L807.7,435.0 L809.4,433.6 L811.0,433.0 L813.1,433.9 L815.0,436.0 L815.9,437.3 L816.7,439.0 L817.5,440.8 L818.3,442.9 L819.0,445.1 L819.7,447.5 L820.4,449.9 L821.0,452.3 L821.4,454.0 L821.8,455.8 L822.1,457.6 L822.4,459.5 L822.7,461.5 L823.0,463.5 L823.2,465.6 L823.5,467.7 L823.7,469.8 L824.0,471.9 L824.2,474.1 L824.5,476.2 L824.7,478.3 L825.0,480.4 L825.2,482.5 L825.5,484.5 L825.8,486.5 L826.1,488.5 L826.3,490.6 L826.6,492.6 L826.9,494.6 L827.2,496.6 L827.4,498.6 L827.7,500.7 L828.0,502.7 L828.3,504.7 L828.6,506.7 L828.9,508.7 L829.2,510.8 L829.6,512.8 L829.9,514.8 L830.3,516.8 L830.7,518.8 L831.1,520.9 L831.6,523.0 L832.0,525.2 L832.5,527.3 L833.0,529.4 L833.5,531.6 L834.0,533.7 L834.5,535.8 L835.0,537.8 L835.5,539.9 L836.0,541.8 L836.5,543.8 L837.1,545.6 L837.6,547.4 L838.1,549.1 L838.8,551.4 L839.6,553.6 L840.3,555.6 L841.1,557.5 L841.8,559.4 L842.6,561.3 L843.4,563.2 L844.2,565.2 L845.0,567.2 L845.8,569.3 L846.5,571.3 L847.3,573.4 L848.2,575.4 L849.0,577.4 L850.0,579.2 L851.0,581.0 L852.3,583.1 L853.8,585.3 L855.3,587.4 L856.9,589.3 L858.4,590.6 L860.0,591.2 L861.9,590.9 L863.9,589.6 L865.9,587.9 L868.0,586.0 L869.3,584.9 L870.7,583.6 L872.1,582.2 L873.6,580.7 L875.0,579.2 L876.5,577.6 L878.0,575.9 L879.6,574.3 L881.1,572.6 L882.6,571.0 L884.0,569.5 L885.4,568.0 L886.9,566.4 L888.3,564.8 L889.8,563.2 L891.3,561.6 L892.7,560.0 L894.2,558.3 L895.7,556.7 L897.1,555.1 L898.6,553.5 L900.0,552.0 L901.5,550.4 L903.0,548.9 L904.4,547.3 L905.9,545.8 L907.4,544.3 L908.8,542.8 L910.3,541.2 L911.8,539.7 L913.2,538.2 L914.7,536.6 L916.1,535.0 L917.5,533.5 L918.9,531.9 L920.2,530.4 L921.6,528.8 L923.0,527.2 L924.4,525.6 L925.8,524.0 L927.1,522.4 L928.5,520.8 L929.8,519.2 L931.0,517.6 L932.3,516.0 L933.6,514.3 L934.8,512.5 L936.0,510.7 L937.2,508.9 L938.4,507.0 L939.5,505.2 L940.7,503.4 L941.8,501.7 L942.9,500.0 L944.1,498.5 L945.2,497.0 L946.9,495.0 L948.6,493.2 L950.2,491.5 L951.9,489.9 L953.5,488.4 L954.9,487.0 L956.7,485.2 L958.3,483.7 L960.0,482.5 L962.3,481.4 L964.5,481.0 L966.8,482.0 L969.0,484.0 L970.2,485.4 L971.4,487.1 L972.5,489.0 L973.5,491.0 L974.5,493.0 L975.3,494.8 L976.0,496.7 L976.7,498.6 L977.3,500.6 L977.9,502.7 L978.5,505.0 L978.9,506.7 L979.4,508.6 L979.8,510.5 L980.3,512.5 L980.7,514.6 L981.1,516.7 L981.5,518.8 L981.9,521.0 L982.3,523.2 L982.7,525.4 L983.1,527.6 L983.5,529.8 L983.8,531.7 L984.1,533.6 L984.4,535.5 L984.7,537.5 L985.0,539.4 L985.3,541.4 L985.6,543.4 L985.9,545.3 L986.1,547.4 L986.4,549.4 L986.7,551.5 L987.0,553.5 L987.3,555.7 L987.7,557.8 L988.0,560.0 L988.3,561.8 L988.6,563.7 L988.9,565.6 L989.2,567.5 L989.6,569.4 L989.9,571.3 L990.3,573.2 L990.6,575.2 L991.0,577.2 L991.3,579.2 L991.7,581.2 L992.1,583.2 L992.4,585.3 L992.8,587.3 L993.2,589.4 L993.5,591.5 L993.9,593.6 L994.2,595.8 L994.5,597.9 L994.9,600.1 L995.2,602.3 L995.5,604.5 L995.7,606.3 L996.0,608.2 L996.2,610.1 L996.5,612.0 L996.7,613.9 L996.9,615.9 L997.2,617.8 L997.4,619.8 L997.6,621.8 L997.9,623.8 L998.1,625.8 L998.3,627.8 L998.5,629.9 L998.7,631.9 L998.9,634.0 L999.1,636.0 L999.4,638.1 L999.6,640.2 L999.8,642.3 L1000.0,644.3 L1000.2,646.4 L1000.4,648.5 L1000.6,650.6 L1000.8,652.7 L1001.0,654.7 L1001.2,656.8 L1001.4,658.9 L1001.6,660.9 L1001.8,663.0 L1002.0,665.0 L1002.2,667.1 L1002.4,669.1 L1002.6,671.1 L1002.8,673.2 L1003.0,675.2 L1003.2,677.2 L1003.4,679.3 L1003.6,681.3 L1003.8,683.4 L1004.0,685.5 L1004.2,687.5 L1004.4,689.6 L1004.6,691.7 L1004.8,693.8 L1005.0,695.8 L1005.2,697.9 L1005.4,700.0 L1005.6,702.0 L1005.8,704.1 L1006.0,706.1 L1006.2,708.2 L1006.4,710.2 L1006.6,712.2 L1006.7,714.2 L1006.9,716.2 L1007.1,718.2 L1007.3,720.2 L1007.5,722.2 L1007.6,724.1 L1007.8,726.0 L1008.0,728.0 L1008.2,729.9 L1008.3,731.7 L1008.5,733.6 L1008.7,735.8 L1008.9,737.9 L1009.1,740.0 L1009.3,742.1 L1009.4,744.2 L1009.6,746.3 L1009.8,748.3 L1010.0,750.3 L1010.1,752.4 L1010.3,754.4 L1010.5,756.3 L1010.6,758.3 L1010.8,760.3 L1010.9,762.3 L1011.1,764.2 L1011.3,766.2 L1011.4,768.2 L1011.6,770.1 L1011.7,772.1 L1011.9,774.1 L1012.1,776.0 L1012.2,778.0 L1012.4,780.0 L1012.6,782.0 L1012.7,784.0 L1012.9,786.0 L1013.1,788.0 L1013.2,790.0 L1013.4,792.0 L1013.5,793.9 L1013.7,795.9 L1013.9,797.9 L1014.0,799.8 L1014.2,801.8 L1014.3,803.8 L1014.5,805.8 L1014.7,807.7 L1014.8,809.8 L1015.0,811.8 L1015.1,813.8 L1015.3,815.9 L1015.5,818.0 L1015.6,820.1 L1015.8,822.3 L1016.0,824.5 L1016.1,826.3 L1016.3,828.2 L1016.5,830.1 L1016.6,832.1 L1016.8,834.0 L1016.9,836.0 L1017.1,838.0 L1017.2,840.0 L1017.4,842.0 L1017.6,844.1 L1017.7,846.1 L1017.9,848.2 L1018.0,850.3 L1018.2,852.3 L1018.4,854.4 L1018.5,856.5 L1018.7,858.6 L1018.9,860.7 L1019.0,862.8 L1019.2,864.9 L1019.4,867.0 L1019.5,869.1 L1019.7,871.1 L1019.9,873.2 L1020.0,875.2 L1020.2,877.3 L1020.4,879.3 L1020.5,881.3 L1020.7,883.3 L1020.9,885.2 L1021.0,887.2 L1021.2,889.1 L1021.4,891.3 L1021.6,893.4 L1021.8,895.6 L1021.9,897.7 L1022.1,899.8 L1022.3,901.9 L1022.5,904.0 L1022.7,906.1 L1022.8,908.2 L1023.0,910.3 L1023.2,912.4 L1023.4,914.4 L1023.6,916.5 L1023.7,918.5 L1023.9,920.6 L1024.1,922.6 L1024.3,924.6 L1024.5,926.6 L1024.7,928.6 L1024.8,930.6 L1025.0,932.5 L1025.2,934.5 L1025.4,936.4 L1025.6,938.4 L1025.8,940.3 L1026.0,942.4 L1026.2,944.6 L1026.4,946.8 L1026.7,948.9 L1026.9,951.1 L1027.1,953.3 L1027.3,955.4 L1027.6,957.6 L1027.8,959.7 L1028.0,961.8 L1028.2,963.9 L1028.5,965.9 L1028.7,967.9 L1028.9,969.9 L1029.1,971.8 L1029.4,973.7 L1029.6,975.5 L1029.8,977.3 L1030.1,979.0 L1030.3,980.6 L1030.7,983.2 L1031.0,985.6 L1031.4,987.9 L1031.7,990.1 L1032.1,992.2 L1032.5,994.2 L1033.0,996.1 L1033.5,998.0 L1034.2,1000.2 L1034.9,1002.4 L1035.7,1004.3 L1036.5,1006.1 L1037.5,1007.5 L1039.4,1009.4 L1041.5,1010.2 L1043.6,1009.4 L1045.5,1007.5 L1046.5,1006.1 L1047.3,1004.3 L1048.1,1002.3 L1048.8,1000.2 L1049.5,998.0 L1050.1,996.1 L1050.6,994.2 L1051.1,992.2 L1051.5,990.1 L1052.0,987.9 L1052.5,985.6 L1053.0,983.2 L1053.5,980.6 L1053.8,979.0 L1054.2,977.3 L1054.5,975.5 L1054.9,973.6 L1055.2,971.7 L1055.6,969.7 L1055.9,967.7 L1056.3,965.7 L1056.7,963.6 L1057.0,961.5 L1057.4,959.4 L1057.8,957.2 L1058.2,955.1 L1058.5,952.9 L1058.9,950.8 L1059.3,948.6 L1059.7,946.5 L1060.0,944.4 L1060.4,942.3 L1060.8,940.3 L1061.2,938.3 L1061.6,936.2 L1061.9,934.1 L1062.3,932.0 L1062.7,929.9 L1063.1,927.8 L1063.5,925.7 L1063.9,923.6 L1064.3,921.5 L1064.7,919.4 L1065.1,917.3 L1065.5,915.2 L1065.9,913.2 L1066.3,911.2 L1066.7,909.2 L1067.0,907.3 L1067.4,905.4 L1067.8,903.5 L1068.1,901.7 L1068.5,900.0 L1069.0,897.7 L1069.4,895.6 L1069.8,893.4 L1070.2,891.4 L1070.6,889.4 L1071.1,887.4 L1071.5,885.5 L1071.9,883.6 L1072.3,881.7 L1072.8,879.9 L1073.3,878.0 L1073.9,875.9 L1074.4,873.8 L1074.9,871.7 L1075.5,869.6 L1076.1,867.6 L1076.7,865.7 L1077.4,863.8 L1078.2,862.1 L1079.0,860.5 L1080.3,858.6 L1081.8,856.9 L1083.4,855.4 L1085.0,854.0 L1086.5,852.5 L1088.2,850.9 L1089.9,849.3 L1091.5,847.7 L1093.0,846.0 L1094.4,844.2 L1095.7,842.2 L1096.9,840.2 L1098.0,838.0 L1098.8,836.1 L1099.5,834.2 L1100.1,832.1 L1100.7,829.9 L1101.3,827.6 L1102.0,825.0 L1102.5,823.3 L1102.9,821.5 L1103.4,819.6 L1104.0,817.5 L1104.5,815.3 L1105.0,813.1 L1105.6,810.9 L1106.2,808.6 L1106.7,806.3 L1107.3,804.0 L1107.9,801.8 L1108.4,799.7 L1109.0,797.6 L1109.5,795.7 L1110.1,793.9 L1110.6,792.3 L1111.5,789.9 L1112.3,787.8 L1113.1,785.8 L1113.9,783.9 L1114.8,782.0 L1115.7,780.0 L1116.6,778.0 L1117.5,776.0 L1118.4,774.0 L1119.4,772.0 L1120.3,769.9 L1121.3,767.9 L1122.2,765.9 L1123.1,763.8 L1123.9,761.7 L1124.8,759.6 L1125.6,757.5 L1126.5,755.5 L1127.5,753.6 L1128.5,752.0 L1130.0,750.0 L1131.7,748.1 L1133.4,746.7 L1135.1,746.2 L1136.8,746.8 L1138.5,748.2 L1140.1,750.1 L1141.5,752.0 L1142.6,753.7 L1143.5,755.6 L1144.4,757.6 L1145.2,759.7 L1146.0,762.0 L1146.6,763.7 L1147.3,765.5 L1147.9,767.3 L1148.5,769.2 L1149.2,771.1 L1149.8,773.2 L1150.4,775.3 L1150.9,777.6 L1151.5,780.0 L1151.8,781.6 L1152.2,783.3 L1152.5,785.0 L1152.8,786.7 L1153.1,788.6 L1153.3,790.4 L1153.6,792.4 L1153.9,794.3 L1154.1,796.3 L1154.4,798.4 L1154.7,800.5 L1154.9,802.6 L1155.2,804.7 L1155.4,806.9 L1155.7,809.0 L1155.9,811.2 L1156.2,813.4 L1156.4,815.6 L1156.7,817.8 L1156.9,820.1 L1157.2,822.3 L1157.5,824.5 L1157.7,826.3 L1158.0,828.2 L1158.2,830.1 L1158.5,832.0 L1158.7,833.9 L1159.0,835.9 L1159.2,837.8 L1159.5,839.8 L1159.7,841.8 L1160.0,843.8 L1160.2,845.8 L1160.5,847.8 L1160.8,849.9 L1161.0,851.9 L1161.3,854.0 L1161.5,856.0 L1161.8,858.1 L1162.1,860.2 L1162.3,862.3 L1162.6,864.3 L1162.8,866.4 L1163.1,868.5 L1163.3,870.6 L1163.6,872.7 L1163.8,874.7 L1164.1,876.8 L1164.3,878.9 L1164.6,880.9 L1164.8,883.0 L1165.0,885.0 L1165.3,887.1 L1165.5,889.1 L1165.7,891.1 L1165.9,893.1 L1166.2,895.2 L1166.4,897.2 L1166.6,899.2 L1166.8,901.3 L1167.0,903.3 L1167.2,905.3 L1167.4,907.4 L1167.6,909.4 L1167.9,911.5 L1168.1,913.5 L1168.3,915.6 L1168.5,917.6 L1168.7,919.6 L1168.9,921.7 L1169.1,923.7 L1169.3,925.7 L1169.5,927.8 L1169.7,929.8 L1169.9,931.8 L1170.0,933.8 L1170.2,935.8 L1170.4,937.8 L1170.7,939.8 L1170.9,941.8 L1171.1,943.8 L1171.3,945.8 L1171.5,947.8 L1171.7,949.7 L1171.9,951.7 L1172.1,953.6 L1172.3,955.7 L1172.6,957.8 L1172.8,959.9 L1173.0,962.0 L1173.3,964.1 L1173.5,966.1 L1173.7,968.2 L1174.0,970.3 L1174.2,972.3 L1174.5,974.4 L1174.7,976.4 L1174.9,978.5 L1175.2,980.5 L1175.4,982.5 L1175.7,984.5 L1175.9,986.5 L1176.1,988.6 L1176.4,990.6 L1176.6,992.6 L1176.9,994.6 L1177.1,996.5 L1177.4,998.5 L1177.6,1000.5 L1177.9,1002.5 L1178.1,1004.5 L1178.4,1006.4 L1178.6,1008.4 L1178.9,1010.5 L1179.1,1012.6 L1179.4,1014.7 L1179.7,1016.8 L1179.9,1018.9 L1180.2,1021.0 L1180.5,1023.1 L1180.7,1025.1 L1181.0,1027.2 L1181.3,1029.3 L1181.5,1031.4 L1181.8,1033.4 L1182.1,1035.5 L1182.3,1037.5 L1182.6,1039.5 L1182.9,1041.5 L1183.2,1043.5 L1183.4,1045.5 L1183.7,1047.4 L1184.0,1049.4 L1184.3,1051.3 L1184.5,1053.1 L1184.8,1055.0 L1185.1,1056.8 L1185.4,1059.0 L1185.8,1061.2 L1186.1,1063.4 L1186.5,1065.6 L1186.8,1067.8 L1187.1,1069.9 L1187.5,1072.0 L1187.8,1074.1 L1188.2,1076.2 L1188.5,1078.1 L1188.9,1080.1 L1189.2,1081.9 L1189.6,1083.7 L1190.0,1085.4 L1190.3,1087.0 L1190.7,1088.5 L1191.4,1091.1 L1192.0,1093.5 L1192.7,1095.6 L1193.5,1097.6 L1194.5,1099.5 L1195.7,1101.2 L1197.1,1102.7 L1198.6,1104.2 L1200.1,1105.7 L1201.5,1107.5 L1202.6,1109.1 L1203.6,1110.8 L1204.7,1112.6 L1205.6,1114.5 L1206.6,1116.5 L1207.5,1118.7 L1208.3,1121.0 L1208.8,1122.6 L1209.3,1124.3 L1209.7,1126.1 L1210.1,1128.0 L1210.5,1130.0 L1210.9,1132.0 L1211.2,1134.1 L1211.5,1136.2 L1211.9,1138.3 L1212.2,1140.5 L1212.5,1142.7 L1212.8,1144.9 L1213.1,1147.1 L1213.4,1149.3 L1213.7,1151.5 L1214.0,1153.6 L1214.3,1155.5 L1214.6,1157.4 L1214.9,1159.4 L1215.1,1161.3 L1215.4,1163.2 L1215.7,1165.2 L1215.9,1167.1 L1216.2,1169.1 L1216.4,1171.1 L1216.7,1173.0 L1216.9,1175.0 L1217.2,1177.0 L1217.4,1179.1 L1217.7,1181.1 L1218.0,1183.2 L1218.2,1185.2 L1218.5,1187.3 L1218.7,1189.5 L1219.0,1191.6 L1219.2,1193.5 L1219.5,1195.4 L1219.7,1197.3 L1219.9,1199.3 L1220.2,1201.3 L1220.4,1203.4 L1220.6,1205.4 L1220.9,1207.5 L1221.1,1209.6 L1221.3,1211.7 L1221.6,1213.8 L1221.8,1216.0 L1222.0,1218.1 L1222.3,1220.2 L1222.5,1222.3 L1222.7,1224.4 L1223.0,1226.4 L1223.2,1228.5 L1223.5,1230.5 L1223.7,1232.4 L1223.9,1234.4 L1224.2,1236.3 L1224.4,1238.1 L1224.6,1239.9 L1224.9,1241.6 L1225.1,1243.3 L1225.4,1245.6 L1225.7,1247.9 L1226.1,1250.1 L1226.4,1252.3 L1226.7,1254.4 L1227.0,1256.5 L1227.3,1258.5 L1227.6,1260.4 L1228.0,1262.3 L1228.3,1264.1 L1228.7,1265.8 L1229.0,1267.5 L1229.4,1269.1 L1230.1,1271.6 L1230.7,1274.0 L1231.4,1276.1 L1232.2,1278.1 L1233.0,1280.0 L1234.2,1282.4 L1235.5,1284.6 L1237.0,1286.5 L1239.3,1288.4 L1242.0,1289.8 L1243.9,1290.3 L1245.9,1290.6 L1248.0,1290.7 L1250.0,1290.8 L1252.0,1290.9 L1253.8,1290.8 L1256.0,1290.8 L1257.6,1290.8 L1259.2,1290.8 L1260.8,1290.8 L1262.7,1290.8 L1264.8,1290.8 L1267.2,1290.8 L1270.0,1290.8 L1271.0,1290.8 L1272.1,1290.8 L1273.2,1290.8 L1274.4,1290.8 L1275.7,1290.8 L1277.0,1290.8 L1278.3,1290.8 L1279.7,1290.8 L1281.2,1290.8 L1282.7,1290.8 L1284.3,1290.8 L1285.9,1290.8 L1287.5,1290.8 L1289.2,1290.8 L1290.9,1290.8 L1292.7,1290.8 L1294.5,1290.8 L1296.3,1290.8 L1298.2,1290.8 L1300.1,1290.8 L1302.1,1290.8 L1304.1,1290.8 L1306.1,1290.8 L1308.1,1290.8 L1310.2,1290.8 L1312.3,1290.8 L1314.4,1290.8 L1316.6,1290.8 L1318.7,1290.8 L1320.9,1290.8 L1323.1,1290.8 L1325.4,1290.8 L1327.6,1290.8 L1329.9,1290.8 L1332.1,1290.8 L1334.4,1290.8 L1336.7,1290.8 L1339.0,1290.8 L1341.3,1290.8 L1343.7,1290.8 L1346.0,1290.8 L1348.3,1290.8 L1350.7,1290.8 L1353.0,1290.8 L1355.3,1290.8 L1357.7,1290.8 L1360.0,1290.8 L1362.3,1290.8 L1364.7,1290.8 L1367.0,1290.8 L1369.3,1290.8 L1371.6,1290.8 L1373.9,1290.8 L1376.2,1290.8 L1378.4,1290.8 L1380.7,1290.8 L1382.9,1290.8 L1385.1,1290.8 L1387.3,1290.8 L1389.5,1290.8 L1391.6,1290.8 L1393.8,1290.8 L1395.9,1290.8 L1397.9,1290.8 L1400.0,1290.8 L1402.0,1290.8 L1404.0,1290.8 L1406.0,1290.8 L1408.1,1290.8 L1410.1,1290.8 L1412.2,1290.8 L1414.4,1290.8 L1416.5,1290.8 L1418.7,1290.8 L1420.8,1290.8 L1423.0,1290.8 L1425.2,1290.8 L1427.5,1290.8 L1429.7,1290.8 L1431.9,1290.8 L1434.2,1290.8 L1436.5,1290.8 L1438.7,1290.8 L1441.0,1290.8 L1443.3,1290.8 L1445.6,1290.8 L1447.9,1290.8 L1450.2,1290.8 L1452.5,1290.8 L1454.8,1290.8 L1457.1,1290.8 L1459.4,1290.8 L1461.7,1290.8 L1464.0,1290.8 L1466.3,1290.8 L1468.5,1290.8 L1470.8,1290.8 L1473.1,1290.8 L1475.3,1290.8 L1477.6,1290.8 L1479.8,1290.8 L1482.0,1290.8 L1484.2,1290.8 L1486.4,1290.8 L1488.6,1290.8 L1490.7,1290.8 L1492.9,1290.8 L1495.0,1290.8 L1497.0,1290.8 L1499.1,1290.8 L1501.2,1290.8 L1503.2,1290.8 L1505.2,1290.8 L1507.1,1290.8 L1509.1,1290.8 L1511.0,1290.8 L1512.8,1290.8 L1514.7,1290.8 L1516.5,1290.8 L1518.3,1290.8 L1520.0,1290.8 L1521.7,1290.8 L1523.4,1290.8 L1525.0,1290.8 L1526.6,1290.8 L1528.1,1290.8 L1529.6,1290.8 L1531.1,1290.8 L1532.5,1290.8 L1533.9,1290.8 L1535.2,1290.8 L1536.5,1290.8 L1537.7,1290.8 L1538.9,1290.8 L1540.0,1290.8 L1542.8,1290.8 L1545.3,1290.8 L1547.6,1290.8 L1549.7,1290.8 L1551.6,1290.8 L1553.4,1290.8 L1555.1,1290.8 L1556.8,1290.8 L1558.4,1290.8 L1560.0,1290.8 L1562.5,1290.8 L1564.7,1290.8 L1566.8,1290.7 L1569.0,1290.6 L1571.1,1290.5 L1573.1,1290.3 L1575.3,1290.1 L1577.5,1289.9 L1580.0,1289.5 L1581.7,1289.2 L1583.4,1288.9 L1585.3,1288.6 L1587.2,1288.2 L1589.2,1287.8 L1591.3,1287.4 L1593.4,1286.9 L1595.5,1286.5 L1597.6,1286.0 L1599.7,1285.5 L1601.8,1285.0 L1603.8,1284.5 L1605.8,1284.0 L1607.8,1283.5 L1609.8,1282.9 L1611.9,1282.3 L1613.9,1281.7 L1616.0,1281.1 L1618.0,1280.5 L1620.0,1279.9 L1622.0,1279.3 L1624.0,1278.7 L1625.9,1278.0 L1627.8,1277.4 L1629.6,1276.8 L1631.7,1276.0 L1633.7,1275.2 L1635.7,1274.4 L1637.7,1273.5 L1639.6,1272.7 L1641.4,1271.9 L1643.3,1271.2 L1645.1,1270.5 L1646.8,1270.0 L1649.1,1269.4 L1651.2,1268.9 L1653.3,1268.5 L1655.5,1268.3 L1658.0,1268.2 L1659.8,1268.3 L1661.8,1268.5 L1663.8,1268.8 L1666.0,1269.2 L1668.2,1269.6 L1670.4,1270.1 L1672.7,1270.6 L1674.9,1271.1 L1677.1,1271.6 L1679.2,1272.1 L1681.3,1272.5 L1683.5,1273.0 L1685.6,1273.4 L1687.8,1273.9 L1689.9,1274.4 L1692.0,1274.9 L1694.0,1275.3 L1696.1,1275.8 L1698.0,1276.2 L1700.0,1276.5 L1702.4,1276.8 L1704.7,1277.0 L1706.9,1277.2 L1709.1,1277.4 L1711.4,1277.6 L1713.9,1278.0 L1715.7,1278.4 L1717.6,1278.8 L1719.5,1279.3 L1721.4,1279.9 L1723.4,1280.4 L1725.4,1281.0 L1727.5,1281.6 L1729.5,1282.3 L1731.6,1282.9 L1733.6,1283.4 L1735.7,1284.0 L1737.9,1284.6 L1740.3,1285.2 L1742.9,1285.8 L1745.6,1286.5 L1748.3,1287.1 L1751.0,1287.8 L1753.5,1288.4 L1755.7,1288.9 L1757.6,1289.4 L1759.0,1289.7 L1760.0,1289.9 L1760.3,1290.0"/>
<path class="c" stroke="#37ad6b" d="M170.5,950.0 L171.1,950.8 L172.6,952.7 L174.4,955.0 L176.0,957.0 L177.4,958.8 L178.7,960.6 L180.0,962.0 L181.8,963.5 L183.6,964.2 L185.4,963.6 L187.0,962.0 L187.8,960.5 L188.4,958.6 L189.0,956.4 L189.5,954.2 L190.0,952.0 L190.6,949.9 L191.1,947.9 L191.6,945.8 L192.1,943.5 L192.6,941.0 L192.9,939.3 L193.1,937.6 L193.4,935.8 L193.6,933.9 L193.8,932.0 L194.0,930.0 L194.2,927.9 L194.4,925.8 L194.6,923.6 L194.9,921.3 L195.1,919.0 L195.3,916.7 L195.5,915.0 L195.6,913.2 L195.8,911.4 L196.0,909.5 L196.2,907.5 L196.3,905.5 L196.5,903.5 L196.7,901.4 L196.9,899.3 L197.1,897.2 L197.2,895.0 L197.4,892.9 L197.6,890.7 L197.8,888.6 L198.0,886.4 L198.1,884.3 L198.3,882.2 L198.4,880.1 L198.6,878.0 L198.8,876.0 L198.9,874.0 L199.0,872.1 L199.2,870.2 L199.3,868.4 L199.4,866.2 L199.6,864.0 L199.7,861.8 L199.8,859.6 L199.9,857.5 L200.0,855.4 L200.1,853.4 L200.2,851.4 L200.3,849.4 L200.4,847.4 L200.5,845.5 L200.6,843.6 L200.7,841.8 L200.8,840.0 L200.9,838.2 L201.0,836.0 L201.2,834.0 L201.3,832.0 L201.5,830.1 L201.6,828.2 L201.8,826.3 L201.9,824.3 L202.1,822.2 L202.2,820.0 L202.3,818.3 L202.4,816.5 L202.5,814.7 L202.6,812.8 L202.7,810.9 L202.8,809.0 L202.9,807.0 L202.9,805.0 L203.0,803.0 L203.1,800.9 L203.2,798.8 L203.3,796.7 L203.4,794.5 L203.5,792.3 L203.6,790.1 L203.7,787.9 L203.8,785.6 L203.9,783.8 L204.0,782.0 L204.0,780.1 L204.1,778.2 L204.2,776.3 L204.3,774.4 L204.4,772.4 L204.5,770.4 L204.5,768.4 L204.6,766.4 L204.7,764.4 L204.8,762.3 L204.9,760.2 L205.0,758.2 L205.1,756.1 L205.2,754.0 L205.3,751.9 L205.3,749.8 L205.4,747.7 L205.5,745.6 L205.6,743.5 L205.7,741.4 L205.8,739.3 L205.9,737.2 L206.0,735.1 L206.1,733.1 L206.2,731.0 L206.3,729.0 L206.4,727.0 L206.5,725.0 L206.6,723.0 L206.7,721.0 L206.8,719.0 L206.9,716.9 L206.9,714.9 L207.0,712.9 L207.1,710.9 L207.2,708.9 L207.3,706.9 L207.4,704.9 L207.5,702.9 L207.6,700.9 L207.7,698.9 L207.8,696.9 L207.9,694.9 L208.0,692.9 L208.1,690.9 L208.2,688.9 L208.3,686.8 L208.5,684.8 L208.6,682.8 L208.7,680.8 L208.9,678.8 L209.0,676.8 L209.1,674.8 L209.3,672.8 L209.5,670.8 L209.6,668.7 L209.8,666.7 L210.0,664.6 L210.2,662.6 L210.4,660.5 L210.6,658.4 L210.7,656.3 L211.0,654.2 L211.2,652.1 L211.4,650.1 L211.6,648.0 L211.8,645.9 L212.0,643.8 L212.2,641.8 L212.5,639.7 L212.7,637.7 L212.9,635.6 L213.1,633.6 L213.4,631.6 L213.6,629.6 L213.8,627.7 L214.1,625.7 L214.3,623.8 L214.5,621.9 L214.7,620.0 L215.0,618.2 L215.2,616.4 L215.5,614.2 L215.8,612.0 L216.0,609.8 L216.3,607.6 L216.6,605.5 L216.9,603.4 L217.1,601.3 L217.4,599.3 L217.7,597.3 L218.0,595.3 L218.3,593.3 L218.6,591.3 L218.9,589.4 L219.2,587.5 L219.5,585.6 L219.9,583.7 L220.2,581.8 L220.6,580.0 L221.0,577.9 L221.5,575.8 L222.0,573.7 L222.5,571.7 L223.0,569.7 L223.5,567.8 L224.0,565.8 L224.5,563.9 L225.0,562.0 L225.5,560.2 L226.1,558.3 L226.6,556.4 L227.1,554.6 L227.7,552.5 L228.2,550.4 L228.8,548.4 L229.4,546.4 L229.9,544.4 L230.5,542.4 L231.1,540.4 L231.7,538.5 L232.4,536.5 L233.1,534.5 L233.8,532.6 L234.6,530.6 L235.4,528.7 L236.2,526.6 L237.1,524.6 L238.0,522.7 L238.8,520.8 L239.7,519.0 L240.5,517.3 L241.3,515.7 L242.1,514.3 L243.2,512.4 L244.2,510.8 L245.3,509.3 L246.6,507.6 L247.7,506.2 L248.9,504.7 L250.2,503.2 L251.5,501.5 L253.0,499.8 L254.5,498.0 L256.1,496.3 L257.6,494.6 L259.2,493.0 L260.7,491.5 L262.2,490.1 L263.7,488.7 L265.2,487.4 L266.8,486.0 L268.3,484.8 L269.9,483.5 L271.5,482.2 L273.0,481.0 L274.6,479.9 L276.1,478.7 L277.8,477.4 L279.4,476.2 L281.0,475.1 L282.6,473.9 L284.3,472.8 L285.9,471.7 L287.7,470.7 L289.5,469.6 L291.2,468.7 L293.0,467.8 L294.8,466.9 L296.7,466.0 L298.6,465.2 L300.6,464.3 L302.5,463.5 L304.4,462.7 L306.4,461.8 L308.3,461.0 L310.2,460.1 L312.2,459.3 L314.1,458.4 L316.0,457.5 L318.0,456.6 L319.9,455.8 L321.9,454.9 L323.9,454.1 L325.8,453.3 L327.8,452.6 L329.7,451.9 L331.6,451.3 L333.6,450.7 L335.5,450.2 L337.4,449.6 L339.4,449.1 L341.3,448.6 L343.3,448.1 L345.3,447.6 L347.3,447.0 L349.3,446.5 L351.2,445.9 L353.1,445.4 L355.1,444.9 L357.0,444.3 L359.0,443.8 L361.0,443.2 L363.2,442.7 L365.3,442.1 L367.6,441.5 L370.0,440.8 L371.6,440.4 L373.3,439.9 L375.0,439.4 L376.7,438.9 L378.5,438.3 L380.3,437.8 L382.2,437.2 L384.1,436.6 L386.1,436.1 L388.0,435.5 L390.0,434.9 L392.0,434.3 L394.0,433.7 L396.1,433.1 L398.1,432.5 L400.2,431.9 L402.2,431.3 L404.3,430.7 L406.3,430.2 L408.4,429.6 L410.4,429.1 L412.4,428.6 L414.5,428.1 L416.4,427.6 L418.4,427.2 L420.4,426.8 L422.4,426.4 L424.4,426.0 L426.4,425.6 L428.4,425.2 L430.5,424.9 L432.5,424.5 L434.5,424.2 L436.5,423.9 L438.5,423.6 L440.5,423.3 L442.6,423.0 L444.6,422.7 L446.6,422.4 L448.6,422.1 L450.6,421.8 L452.7,421.5 L454.7,421.2 L456.7,420.9 L458.7,420.6 L460.7,420.3 L462.8,420.0 L464.8,419.7 L466.8,419.4 L468.8,419.1 L470.8,418.7 L472.8,418.4 L474.8,418.1 L476.7,417.7 L478.7,417.4 L480.6,417.1 L482.6,416.7 L484.5,416.4 L486.5,416.0 L488.4,415.7 L490.4,415.3 L492.3,415.0 L494.3,414.7 L496.3,414.3 L498.3,414.0 L500.4,413.7 L502.4,413.3 L504.5,413.0 L506.6,412.7 L508.7,412.4 L510.8,412.0 L513.0,411.7 L515.2,411.4 L517.1,411.2 L519.0,410.9 L521.0,410.7 L523.0,410.5 L525.2,410.2 L527.3,410.0 L529.6,409.8 L531.8,409.6 L534.1,409.4 L536.4,409.2 L538.8,409.0 L541.1,408.8 L543.5,408.6 L545.9,408.4 L548.3,408.2 L550.7,408.1 L553.0,407.9 L555.4,407.7 L557.7,407.5 L560.0,407.3 L562.3,407.1 L564.5,406.8 L566.6,406.6 L568.8,406.4 L570.8,406.2 L572.8,405.9 L574.7,405.7 L576.6,405.4 L578.3,405.2 L580.0,404.9 L581.6,404.6 L583.0,404.3 L584.4,404.0 L585.7,403.7 L586.8,403.4 L587.8,403.0 L590.2,401.8 L592.0,400.6 L593.4,399.3 L595.0,398.0 L596.8,396.6 L598.6,395.1 L600.4,393.7 L602.4,392.7 L604.4,392.2 L606.5,391.8 L608.7,391.7 L610.9,391.8 L612.9,392.2 L615.0,393.0 L617.0,394.3 L619.0,395.7 L621.0,397.0 L622.7,398.1 L624.4,399.3 L626.1,400.4 L627.9,401.4 L629.8,402.2 L631.9,402.7 L634.2,402.9 L636.6,403.0 L638.9,402.9 L641.1,402.8 L643.3,402.5 L645.5,402.0 L647.6,401.4 L650.0,400.9 L651.8,400.6 L653.7,400.3 L655.7,399.9 L657.7,399.6 L659.8,399.3 L662.0,399.0 L664.0,398.7 L666.1,398.5 L668.2,398.3 L670.3,398.1 L672.4,398.0 L674.6,397.9 L676.7,397.7 L678.7,397.6 L680.6,397.4 L682.3,397.2 L685.1,396.9 L687.7,396.4 L690.0,395.5 L691.5,394.4 L692.9,393.0 L694.2,391.3 L695.5,389.6 L696.8,388.0 L698.0,386.4 L699.2,384.7 L700.4,383.0 L701.6,381.4 L703.0,380.0 L704.9,378.4 L706.9,376.9 L709.0,375.6 L711.3,374.6 L713.4,373.9 L715.6,373.3 L718.0,373.0 L720.3,372.7 L722.6,372.7 L724.9,372.8 L727.2,373.2 L729.4,373.7 L731.7,374.3 L733.9,375.2 L735.9,376.1 L737.8,377.3 L739.7,378.5 L741.5,379.9 L743.4,381.4 L745.2,383.0 L746.7,384.3 L748.2,385.8 L749.7,387.3 L751.2,388.9 L752.6,390.6 L754.0,392.3 L755.3,394.0 L756.5,395.7 L757.6,397.5 L758.6,399.4 L759.4,401.4 L760.1,403.4 L760.7,405.4 L761.3,407.4 L761.8,409.5 L762.4,411.6 L763.0,413.6 L763.6,415.6 L764.2,417.6 L764.8,419.7 L765.4,421.7 L766.0,423.7 L766.6,425.8 L767.2,427.8 L767.8,429.8 L768.4,431.9 L769.0,434.0 L769.6,436.2 L770.2,438.4 L770.8,440.5 L771.5,442.5 L772.2,444.3 L773.0,445.9 L774.6,448.4 L776.2,450.4 L778.0,452.0 L780.2,453.5 L782.4,454.1 L784.6,453.5 L787.0,452.0 L788.5,450.9 L790.1,449.6 L791.7,448.1 L793.4,446.5 L795.0,445.0 L796.5,443.5 L798.0,442.0 L799.5,440.4 L801.0,438.8 L802.5,437.3 L804.0,436.0 L805.8,434.4 L807.6,432.7 L809.3,431.5 L811.0,431.0 L812.8,431.6 L814.4,433.0 L816.0,435.0 L816.8,436.3 L817.6,437.8 L818.3,439.6 L819.0,441.5 L819.7,443.5 L820.4,445.6 L821.0,447.8 L821.5,450.0 L822.1,452.3 L822.5,454.0 L822.9,455.8 L823.2,457.7 L823.5,459.6 L823.8,461.6 L824.0,463.6 L824.3,465.7 L824.5,467.7 L824.8,469.8 L825.0,472.0 L825.2,474.1 L825.5,476.2 L825.7,478.3 L826.0,480.4 L826.2,482.5 L826.5,484.5 L826.8,486.5 L827.1,488.5 L827.3,490.6 L827.6,492.6 L827.9,494.6 L828.1,496.6 L828.4,498.6 L828.7,500.7 L829.0,502.7 L829.3,504.7 L829.6,506.7 L829.9,508.7 L830.2,510.8 L830.6,512.8 L830.9,514.8 L831.3,516.8 L831.7,518.8 L832.1,520.9 L832.6,523.0 L833.0,525.2 L833.5,527.3 L834.0,529.4 L834.5,531.6 L835.0,533.7 L835.5,535.8 L836.0,537.8 L836.5,539.9 L837.0,541.8 L837.5,543.8 L838.1,545.6 L838.6,547.4 L839.1,549.1 L839.8,551.4 L840.6,553.6 L841.3,555.6 L842.1,557.6 L842.8,559.5 L843.6,561.4 L844.4,563.3 L845.2,565.2 L846.1,567.3 L847.0,569.4 L847.9,571.5 L848.8,573.6 L849.8,575.5 L850.9,577.4 L852.0,579.0 L853.5,580.9 L855.0,582.7 L856.7,584.3 L858.3,585.4 L860.0,585.9 L861.9,585.4 L863.9,583.9 L865.9,582.0 L868.0,580.0 L869.3,578.8 L870.7,577.6 L872.1,576.2 L873.6,574.8 L875.0,573.3 L876.5,571.7 L878.1,570.1 L879.6,568.5 L881.1,566.8 L882.6,565.2 L883.9,563.7 L885.2,562.2 L886.6,560.7 L887.9,559.1 L889.2,557.4 L890.6,555.8 L891.9,554.1 L893.3,552.5 L894.6,550.9 L896.0,549.2 L897.3,547.6 L898.7,546.1 L900.0,544.6 L901.5,543.0 L902.9,541.5 L904.4,540.0 L905.9,538.5 L907.4,537.1 L908.8,535.7 L910.3,534.2 L911.8,532.8 L913.2,531.3 L914.7,529.8 L916.1,528.2 L917.5,526.7 L918.9,525.1 L920.3,523.5 L921.7,521.9 L923.0,520.3 L924.4,518.7 L925.8,517.1 L927.1,515.4 L928.5,513.8 L929.8,512.1 L931.1,510.5 L932.3,508.8 L933.6,507.0 L934.8,505.3 L936.0,503.4 L937.2,501.6 L938.4,499.7 L939.6,497.9 L940.7,496.1 L941.8,494.3 L943.0,492.6 L944.1,491.0 L945.2,489.4 L946.6,487.5 L948.1,485.5 L949.6,483.7 L951.0,481.9 L952.3,480.3 L953.7,478.7 L954.9,477.3 L956.7,475.2 L958.3,473.5 L960.0,472.0 L962.6,470.4 L965.2,469.8 L967.7,470.8 L970.0,473.0 L971.1,474.4 L972.2,476.2 L973.2,478.2 L974.1,480.3 L975.0,482.4 L975.9,484.5 L976.7,486.5 L977.4,488.5 L978.1,490.5 L978.7,492.7 L979.3,495.0 L979.9,497.5 L980.2,499.1 L980.6,500.8 L980.9,502.7 L981.2,504.6 L981.5,506.5 L981.8,508.6 L982.1,510.7 L982.4,512.8 L982.7,515.0 L983.0,517.1 L983.2,519.3 L983.5,521.5 L983.8,523.6 L984.1,525.7 L984.4,527.8 L984.7,529.8 L985.0,531.8 L985.3,533.8 L985.6,535.8 L986.0,537.8 L986.3,539.7 L986.6,541.7 L986.9,543.6 L987.2,545.6 L987.5,547.6 L987.9,549.5 L988.2,551.6 L988.5,553.6 L988.9,555.7 L989.2,557.8 L989.6,560.0 L989.9,561.8 L990.2,563.7 L990.5,565.6 L990.9,567.5 L991.2,569.4 L991.6,571.3 L991.9,573.2 L992.3,575.2 L992.6,577.2 L993.0,579.2 L993.3,581.2 L993.7,583.2 L994.0,585.3 L994.4,587.3 L994.8,589.4 L995.1,591.5 L995.4,593.6 L995.8,595.8 L996.1,597.9 L996.5,600.1 L996.8,602.3 L997.1,604.5 L997.4,606.3 L997.6,608.2 L997.9,610.1 L998.1,612.0 L998.4,613.9 L998.6,615.9 L998.9,617.8 L999.1,619.8 L999.3,621.8 L999.6,623.8 L999.8,625.8 L1000.0,627.8 L1000.3,629.9 L1000.5,631.9 L1000.7,634.0 L1001.0,636.0 L1001.2,638.1 L1001.4,640.2 L1001.6,642.3 L1001.9,644.3 L1002.1,646.4 L1002.3,648.5 L1002.5,650.6 L1002.7,652.7 L1003.0,654.7 L1003.2,656.8 L1003.4,658.9 L1003.6,660.9 L1003.8,663.0 L1004.0,665.0 L1004.2,667.1 L1004.4,669.1 L1004.6,671.1 L1004.8,673.1 L1005.0,675.2 L1005.2,677.2 L1005.4,679.3 L1005.6,681.3 L1005.8,683.4 L1006.0,685.5 L1006.1,687.5 L1006.3,689.6 L1006.5,691.7 L1006.7,693.7 L1006.9,695.8 L1007.0,697.9 L1007.2,699.9 L1007.4,702.0 L1007.6,704.1 L1007.7,706.1 L1007.9,708.2 L1008.1,710.2 L1008.2,712.2 L1008.4,714.2 L1008.6,716.2 L1008.7,718.2 L1008.9,720.2 L1009.1,722.2 L1009.2,724.1 L1009.4,726.0 L1009.5,728.0 L1009.7,729.9 L1009.8,731.7 L1010.0,733.6 L1010.2,735.8 L1010.4,737.9 L1010.5,740.0 L1010.7,742.1 L1010.9,744.2 L1011.0,746.3 L1011.2,748.3 L1011.3,750.3 L1011.5,752.4 L1011.6,754.4 L1011.8,756.3 L1011.9,758.3 L1012.1,760.3 L1012.2,762.3 L1012.4,764.2 L1012.5,766.2 L1012.7,768.2 L1012.8,770.1 L1013.0,772.1 L1013.1,774.1 L1013.3,776.0 L1013.4,778.0 L1013.6,780.0 L1013.8,782.0 L1013.9,784.0 L1014.1,786.0 L1014.2,788.0 L1014.4,790.0 L1014.5,792.0 L1014.7,793.9 L1014.8,795.9 L1015.0,797.9 L1015.2,799.8 L1015.3,801.8 L1015.5,803.8 L1015.6,805.8 L1015.8,807.7 L1015.9,809.8 L1016.1,811.8 L1016.3,813.8 L1016.4,815.9 L1016.6,818.0 L1016.8,820.1 L1016.9,822.3 L1017.1,824.5 L1017.2,826.3 L1017.4,828.2 L1017.5,830.1 L1017.7,832.1 L1017.8,834.0 L1018.0,836.0 L1018.1,838.0 L1018.3,840.0 L1018.5,842.0 L1018.6,844.1 L1018.8,846.1 L1018.9,848.2 L1019.1,850.3 L1019.3,852.3 L1019.4,854.4 L1019.6,856.5 L1019.7,858.6 L1019.9,860.7 L1020.1,862.8 L1020.2,864.9 L1020.4,867.0 L1020.6,869.1 L1020.7,871.1 L1020.9,873.2 L1021.1,875.2 L1021.2,877.3 L1021.4,879.3 L1021.6,881.3 L1021.7,883.3 L1021.9,885.2 L1022.0,887.2 L1022.2,889.1 L1022.4,891.3 L1022.6,893.4 L1022.7,895.6 L1022.9,897.7 L1023.1,899.8 L1023.3,901.9 L1023.5,904.0 L1023.7,906.1 L1023.8,908.2 L1024.0,910.3 L1024.2,912.4 L1024.4,914.4 L1024.6,916.5 L1024.7,918.5 L1024.9,920.6 L1025.1,922.6 L1025.3,924.6 L1025.5,926.6 L1025.7,928.6 L1025.8,930.6 L1026.0,932.5 L1026.2,934.5 L1026.4,936.4 L1026.6,938.4 L1026.8,940.3 L1027.0,942.4 L1027.2,944.6 L1027.4,946.8 L1027.7,949.0 L1027.9,951.1 L1028.1,953.3 L1028.3,955.5 L1028.5,957.7 L1028.8,959.8 L1029.0,961.9 L1029.2,964.0 L1029.4,966.0 L1029.7,968.0 L1029.9,970.0 L1030.1,971.9 L1030.4,973.8 L1030.6,975.6 L1030.8,977.3 L1031.1,979.0 L1031.3,980.6 L1031.7,983.0 L1032.0,985.3 L1032.4,987.5 L1032.7,989.6 L1033.1,991.5 L1033.5,993.4 L1034.0,995.1 L1034.5,996.7 L1035.5,999.3 L1036.7,1001.6 L1038.0,1003.3 L1041.5,1004.9 L1045.0,1003.3 L1046.3,1001.6 L1047.4,999.3 L1048.5,996.7 L1049.1,995.1 L1049.6,993.4 L1050.1,991.5 L1050.6,989.6 L1051.0,987.5 L1051.5,985.3 L1052.0,983.0 L1052.5,980.6 L1052.8,979.0 L1053.2,977.3 L1053.5,975.5 L1053.9,973.7 L1054.2,971.8 L1054.6,969.9 L1054.9,967.8 L1055.3,965.8 L1055.7,963.7 L1056.0,961.6 L1056.4,959.5 L1056.8,957.3 L1057.2,955.1 L1057.5,953.0 L1057.9,950.8 L1058.3,948.7 L1058.7,946.5 L1059.0,944.4 L1059.4,942.3 L1059.8,940.3 L1060.2,938.3 L1060.6,936.2 L1061.0,934.1 L1061.3,932.1 L1061.7,930.0 L1062.1,927.9 L1062.5,925.8 L1062.9,923.6 L1063.3,921.6 L1063.7,919.5 L1064.1,917.4 L1064.5,915.3 L1064.9,913.3 L1065.3,911.3 L1065.7,909.3 L1066.1,907.4 L1066.4,905.4 L1066.8,903.6 L1067.2,901.8 L1067.5,900.0 L1068.0,897.6 L1068.4,895.3 L1068.8,893.1 L1069.2,891.0 L1069.6,888.8 L1070.0,886.8 L1070.4,884.7 L1070.8,882.7 L1071.2,880.7 L1071.6,878.7 L1072.1,876.7 L1072.6,874.6 L1073.0,872.6 L1073.5,870.5 L1073.9,868.4 L1074.4,866.3 L1074.9,864.3 L1075.4,862.4 L1076.0,860.6 L1076.7,858.9 L1077.4,857.4 L1078.7,855.4 L1080.1,853.7 L1081.6,852.2 L1083.1,850.8 L1084.6,849.3 L1086.3,847.7 L1088.0,846.1 L1089.6,844.6 L1091.1,842.9 L1092.5,841.0 L1093.7,839.1 L1094.8,837.0 L1095.9,834.8 L1096.7,832.9 L1097.3,831.0 L1098.0,828.9 L1098.6,826.8 L1099.3,824.5 L1100.0,822.0 L1100.5,820.4 L1101.1,818.6 L1101.6,816.6 L1102.2,814.6 L1102.8,812.5 L1103.5,810.4 L1104.1,808.2 L1104.8,806.0 L1105.4,803.8 L1106.1,801.7 L1106.7,799.6 L1107.3,797.6 L1107.9,795.7 L1108.5,793.9 L1109.1,792.3 L1110.0,790.0 L1110.8,787.9 L1111.7,786.0 L1112.5,784.1 L1113.3,782.2 L1114.1,780.0 L1114.7,778.2 L1115.3,776.2 L1115.8,774.2 L1116.4,772.0 L1116.9,769.9 L1117.4,767.8 L1118.0,765.7 L1118.5,763.6 L1119.0,761.7 L1119.5,760.0 L1120.2,757.7 L1120.9,755.7 L1121.5,753.8 L1122.2,751.8 L1123.0,749.8 L1123.7,747.8 L1124.4,745.7 L1125.2,743.6 L1126.0,741.5 L1126.9,739.6 L1128.0,738.0 L1129.6,736.1 L1131.4,734.4 L1133.3,733.2 L1135.1,732.7 L1136.9,733.2 L1138.6,734.5 L1140.3,736.2 L1142.0,738.0 L1143.2,739.4 L1144.5,741.0 L1145.7,742.7 L1146.9,744.4 L1147.9,746.3 L1148.9,748.1 L1149.6,749.8 L1150.2,751.8 L1150.5,753.7 L1150.6,755.7 L1150.7,757.7 L1151.0,760.0 L1151.3,761.7 L1151.6,763.4 L1151.9,765.3 L1152.2,767.1 L1152.6,769.1 L1153.0,771.1 L1153.3,773.2 L1153.7,775.4 L1154.1,777.6 L1154.4,780.0 L1154.6,781.6 L1154.9,783.4 L1155.1,785.1 L1155.3,786.9 L1155.5,788.7 L1155.7,790.6 L1155.9,792.6 L1156.2,794.5 L1156.4,796.5 L1156.6,798.6 L1156.8,800.6 L1157.0,802.7 L1157.3,804.8 L1157.5,807.0 L1157.7,809.1 L1157.9,811.3 L1158.2,813.5 L1158.4,815.7 L1158.7,817.9 L1158.9,820.1 L1159.1,822.3 L1159.4,824.5 L1159.6,826.3 L1159.8,828.2 L1160.1,830.1 L1160.3,832.0 L1160.5,833.9 L1160.8,835.9 L1161.0,837.8 L1161.2,839.8 L1161.5,841.8 L1161.7,843.8 L1162.0,845.8 L1162.2,847.8 L1162.5,849.9 L1162.8,851.9 L1163.0,854.0 L1163.3,856.0 L1163.5,858.1 L1163.8,860.2 L1164.0,862.3 L1164.3,864.3 L1164.5,866.4 L1164.8,868.5 L1165.1,870.6 L1165.3,872.7 L1165.6,874.7 L1165.8,876.8 L1166.0,878.9 L1166.3,880.9 L1166.5,883.0 L1166.7,885.0 L1167.0,887.1 L1167.2,889.1 L1167.4,891.1 L1167.6,893.1 L1167.9,895.2 L1168.1,897.2 L1168.3,899.2 L1168.5,901.3 L1168.7,903.3 L1168.9,905.3 L1169.1,907.4 L1169.3,909.4 L1169.5,911.5 L1169.7,913.5 L1169.9,915.6 L1170.1,917.6 L1170.3,919.6 L1170.4,921.7 L1170.6,923.7 L1170.8,925.7 L1171.0,927.8 L1171.2,929.8 L1171.4,931.8 L1171.6,933.8 L1171.8,935.8 L1172.0,937.8 L1172.2,939.8 L1172.4,941.8 L1172.6,943.8 L1172.8,945.8 L1173.0,947.8 L1173.2,949.7 L1173.4,951.7 L1173.6,953.6 L1173.8,955.7 L1174.1,957.8 L1174.3,959.9 L1174.5,962.0 L1174.8,964.1 L1175.0,966.1 L1175.2,968.2 L1175.5,970.3 L1175.7,972.3 L1176.0,974.4 L1176.2,976.4 L1176.4,978.5 L1176.7,980.5 L1176.9,982.5 L1177.2,984.5 L1177.4,986.5 L1177.7,988.6 L1177.9,990.6 L1178.1,992.6 L1178.4,994.5 L1178.6,996.5 L1178.9,998.5 L1179.1,1000.5 L1179.4,1002.5 L1179.6,1004.5 L1179.9,1006.4 L1180.1,1008.4 L1180.4,1010.5 L1180.6,1012.6 L1180.9,1014.7 L1181.1,1016.8 L1181.4,1018.9 L1181.6,1021.0 L1181.9,1023.1 L1182.1,1025.2 L1182.4,1027.2 L1182.6,1029.3 L1182.9,1031.4 L1183.2,1033.5 L1183.4,1035.5 L1183.7,1037.6 L1183.9,1039.6 L1184.2,1041.6 L1184.5,1043.6 L1184.7,1045.5 L1185.0,1047.5 L1185.3,1049.4 L1185.6,1051.3 L1185.8,1053.2 L1186.1,1055.0 L1186.4,1056.8 L1186.8,1059.1 L1187.1,1061.5 L1187.5,1063.8 L1187.9,1066.1 L1188.2,1068.4 L1188.6,1070.7 L1189.0,1073.0 L1189.4,1075.1 L1189.8,1077.3 L1190.2,1079.3 L1190.6,1081.3 L1191.0,1083.1 L1191.5,1084.9 L1191.9,1086.5 L1192.4,1088.0 L1193.2,1090.2 L1194.1,1092.1 L1195.0,1093.8 L1195.9,1095.4 L1197.0,1097.0 L1198.5,1098.8 L1200.2,1100.3 L1202.0,1102.0 L1203.5,1104.0 L1204.4,1105.6 L1205.3,1107.4 L1206.1,1109.3 L1206.8,1111.4 L1207.5,1113.5 L1208.2,1115.7 L1208.9,1118.1 L1209.5,1120.5 L1209.9,1122.2 L1210.4,1124.1 L1210.8,1125.9 L1211.1,1127.9 L1211.5,1129.9 L1211.9,1131.9 L1212.2,1134.0 L1212.6,1136.2 L1212.9,1138.3 L1213.2,1140.5 L1213.5,1142.7 L1213.8,1144.9 L1214.2,1147.1 L1214.5,1149.3 L1214.8,1151.4 L1215.1,1153.6 L1215.4,1155.5 L1215.7,1157.5 L1215.9,1159.4 L1216.2,1161.3 L1216.5,1163.3 L1216.7,1165.2 L1217.0,1167.1 L1217.2,1169.1 L1217.5,1171.1 L1217.7,1173.1 L1218.0,1175.0 L1218.2,1177.1 L1218.5,1179.1 L1218.7,1181.1 L1219.0,1183.2 L1219.2,1185.2 L1219.5,1187.3 L1219.7,1189.5 L1220.0,1191.6 L1220.2,1193.5 L1220.5,1195.4 L1220.7,1197.3 L1220.9,1199.3 L1221.1,1201.3 L1221.4,1203.4 L1221.6,1205.4 L1221.8,1207.5 L1222.1,1209.6 L1222.3,1211.7 L1222.6,1213.8 L1222.8,1216.0 L1223.0,1218.1 L1223.3,1220.2 L1223.5,1222.3 L1223.7,1224.4 L1224.0,1226.4 L1224.2,1228.5 L1224.4,1230.5 L1224.7,1232.4 L1224.9,1234.4 L1225.2,1236.3 L1225.4,1238.1 L1225.6,1239.9 L1225.9,1241.6 L1226.1,1243.3 L1226.4,1245.6 L1226.7,1247.9 L1227.1,1250.1 L1227.4,1252.3 L1227.7,1254.4 L1228.0,1256.5 L1228.3,1258.5 L1228.6,1260.4 L1229.0,1262.3 L1229.3,1264.1 L1229.7,1265.8 L1230.0,1267.5 L1230.4,1269.1 L1231.1,1271.6 L1231.7,1274.0 L1232.4,1276.1 L1233.2,1278.1 L1234.0,1280.0 L1235.2,1282.4 L1236.5,1284.7 L1238.0,1286.5 L1240.3,1288.3 L1243.0,1289.5 L1245.2,1290.0 L1247.6,1290.3 L1250.0,1290.4 L1251.9,1290.5 L1253.8,1290.4 L1256.0,1290.4 L1257.6,1290.4 L1259.2,1290.4 L1261.0,1290.4 L1262.9,1290.4 L1265.0,1290.4 L1267.3,1290.4 L1270.0,1290.4 L1271.2,1290.4 L1272.5,1290.4 L1273.9,1290.4 L1275.3,1290.4 L1276.9,1290.4 L1278.4,1290.4 L1280.1,1290.4 L1281.8,1290.4 L1283.6,1290.4 L1285.4,1290.4 L1287.3,1290.4 L1289.2,1290.4 L1291.1,1290.4 L1293.1,1290.4 L1295.2,1290.4 L1297.3,1290.4 L1299.4,1290.4 L1301.5,1290.4 L1303.7,1290.4 L1305.9,1290.4 L1308.1,1290.4 L1310.3,1290.4 L1312.6,1290.4 L1314.9,1290.4 L1317.1,1290.4 L1319.4,1290.4 L1321.7,1290.4 L1323.9,1290.4 L1326.2,1290.4 L1328.5,1290.4 L1330.7,1290.4 L1333.0,1290.4 L1335.2,1290.4 L1337.4,1290.4 L1339.6,1290.4 L1341.7,1290.4 L1343.8,1290.4 L1345.9,1290.4 L1348.0,1290.4 L1350.0,1290.4 L1352.0,1290.4 L1354.1,1290.4 L1356.2,1290.4 L1358.3,1290.4 L1360.5,1290.4 L1362.7,1290.4 L1365.0,1290.4 L1367.2,1290.4 L1369.5,1290.4 L1371.8,1290.4 L1374.1,1290.4 L1376.4,1290.4 L1378.7,1290.4 L1381.0,1290.4 L1383.4,1290.4 L1385.7,1290.4 L1388.0,1290.4 L1390.3,1290.4 L1392.5,1290.4 L1394.8,1290.4 L1397.0,1290.4 L1399.2,1290.4 L1401.4,1290.4 L1403.5,1290.4 L1405.6,1290.4 L1407.6,1290.4 L1409.7,1290.4 L1411.6,1290.4 L1413.5,1290.4 L1415.4,1290.4 L1417.2,1290.4 L1418.9,1290.4 L1420.6,1290.4 L1422.1,1290.4 L1423.7,1290.4 L1425.1,1290.4 L1426.5,1290.4 L1427.7,1290.4 L1428.9,1290.4 L1430.0,1290.4 L1432.6,1290.4 L1434.6,1290.4 L1436.4,1290.4 L1438.1,1290.4 L1440.0,1290.3 L1441.9,1290.2 L1443.9,1290.1 L1445.9,1290.0 L1447.9,1289.8 L1450.0,1289.7 L1452.0,1289.6 L1454.1,1289.5 L1456.3,1289.5 L1458.5,1289.4 L1460.6,1289.4 L1462.8,1289.4 L1465.0,1289.4 L1467.2,1289.4 L1469.4,1289.5 L1471.5,1289.5 L1473.7,1289.6 L1475.9,1289.6 L1478.0,1289.7 L1480.0,1289.8 L1482.1,1289.9 L1484.1,1290.0 L1486.1,1290.1 L1488.1,1290.2 L1490.0,1290.3 L1492.0,1290.3 L1493.7,1290.4 L1495.6,1290.4 L1497.6,1290.4 L1500.0,1290.4 L1501.4,1290.4 L1503.0,1290.4 L1504.7,1290.4 L1506.5,1290.4 L1508.4,1290.4 L1510.5,1290.4 L1512.6,1290.4 L1514.7,1290.4 L1516.9,1290.4 L1519.2,1290.4 L1521.4,1290.4 L1523.7,1290.4 L1526.0,1290.4 L1528.2,1290.4 L1530.3,1290.4 L1532.5,1290.4 L1534.5,1290.4 L1536.4,1290.4 L1538.3,1290.4 L1540.0,1290.4 L1542.3,1290.4 L1544.6,1290.4 L1546.8,1290.4 L1548.9,1290.4 L1550.9,1290.4 L1552.9,1290.4 L1554.8,1290.4 L1556.6,1290.4 L1558.4,1290.3 L1560.0,1290.3 L1562.5,1290.2 L1564.7,1290.2 L1566.8,1290.1 L1569.0,1289.9 L1571.1,1289.7 L1573.1,1289.5 L1575.3,1289.2 L1577.5,1288.9 L1580.0,1288.5 L1581.7,1288.2 L1583.4,1287.9 L1585.3,1287.5 L1587.2,1287.1 L1589.2,1286.7 L1591.3,1286.3 L1593.4,1285.8 L1595.5,1285.3 L1597.6,1284.8 L1599.7,1284.3 L1601.8,1283.8 L1603.8,1283.3 L1605.8,1282.8 L1607.8,1282.2 L1609.8,1281.7 L1611.9,1281.1 L1613.9,1280.5 L1616.0,1279.8 L1618.0,1279.2 L1620.0,1278.6 L1622.0,1277.9 L1624.0,1277.3 L1625.9,1276.7 L1627.8,1276.0 L1629.6,1275.4 L1631.7,1274.6 L1633.7,1273.8 L1635.7,1272.9 L1637.7,1272.1 L1639.6,1271.2 L1641.4,1270.4 L1643.3,1269.7 L1645.1,1269.0 L1646.8,1268.5 L1649.1,1267.9 L1651.2,1267.4 L1653.3,1267.0 L1655.5,1266.8 L1658.0,1266.7 L1659.8,1266.8 L1661.8,1267.0 L1663.8,1267.3 L1666.0,1267.7 L1668.2,1268.1 L1670.4,1268.6 L1672.7,1269.1 L1674.9,1269.6 L1677.1,1270.1 L1679.2,1270.6 L1681.3,1271.0 L1683.5,1271.5 L1685.6,1271.9 L1687.8,1272.4 L1689.9,1272.9 L1692.0,1273.4 L1694.0,1273.8 L1696.1,1274.3 L1698.0,1274.7 L1700.0,1275.0 L1702.4,1275.3 L1704.7,1275.6 L1706.9,1275.7 L1709.1,1275.9 L1711.4,1276.2 L1713.9,1276.6 L1715.7,1277.0 L1717.6,1277.4 L1719.5,1277.9 L1721.4,1278.5 L1723.4,1279.0 L1725.4,1279.7 L1727.5,1280.3 L1729.5,1280.9 L1731.6,1281.5 L1733.7,1282.1 L1735.7,1282.7 L1737.9,1283.3 L1740.3,1284.0 L1742.9,1284.7 L1745.6,1285.4 L1748.3,1286.2 L1751.0,1286.9 L1753.5,1287.6 L1755.7,1288.2 L1757.6,1288.7 L1759.0,1289.1 L1760.0,1289.4 L1760.3,1289.5"/>
<g class="c">
<path stroke="#515151" stroke-width="11.1" d="M896.4,94.35 H1029.4"/>
<path stroke="#f14040" stroke-width="11.1" d="M896.4,166.40 H1029.4"/>
<path stroke="#1a6fdf" stroke-width="10.1" d="M895.9,238.80 H1029.9"/>
<path stroke="#37ad6b" stroke-width="10.0" d="M895.9,310.90 H1029.9"/>
</g>
<text class="leg" y="122.2"><tspan x="1108.1 1141.3 1174.4">20n</tspan><tspan x="1207.9" textLength="33.0" lengthAdjust="spacingAndGlyphs" style="stroke-width:0.5px">m</tspan><tspan x="1249.1 1273.9 1308.9 1345.8 1380.8 1413.9 1441.5 1480.2 1507.8 1547.5 1575.9 1612.8 1640.4 1673.5"> particle size</tspan></text>
<text class="leg" y="194.0"><tspan x="1108.1 1141.3 1174.4">50n</tspan><tspan x="1207.9" textLength="33.0" lengthAdjust="spacingAndGlyphs" style="stroke-width:0.5px">m</tspan><tspan x="1249.1 1273.9 1308.9 1345.8 1380.8 1413.9 1441.5 1480.2 1507.8 1547.5 1575.9 1612.8 1640.4 1673.5"> particle size</tspan></text>
<text class="leg" y="265.8"><tspan x="1075.0 1108.1 1141.2 1174.4">100n</tspan><tspan x="1207.9" textLength="33.0" lengthAdjust="spacingAndGlyphs" style="stroke-width:0.5px">m</tspan><tspan x="1249.1 1273.9 1308.9 1345.8 1380.8 1413.9 1441.5 1480.2 1507.8 1547.5 1575.9 1612.8 1640.4 1673.5"> particle size</tspan></text>
<text class="leg" y="337.5"><tspan x="1075.0 1108.1 1141.2 1174.4">200n</tspan><tspan x="1207.9" textLength="33.0" lengthAdjust="spacingAndGlyphs" style="stroke-width:0.5px">m</tspan><tspan x="1249.1 1273.9 1308.9 1345.8 1380.8 1413.9 1441.5 1480.2 1507.8 1547.5 1575.9 1612.8 1640.4 1673.5"> particle size</tspan></text>

</svg>
</body></html>
